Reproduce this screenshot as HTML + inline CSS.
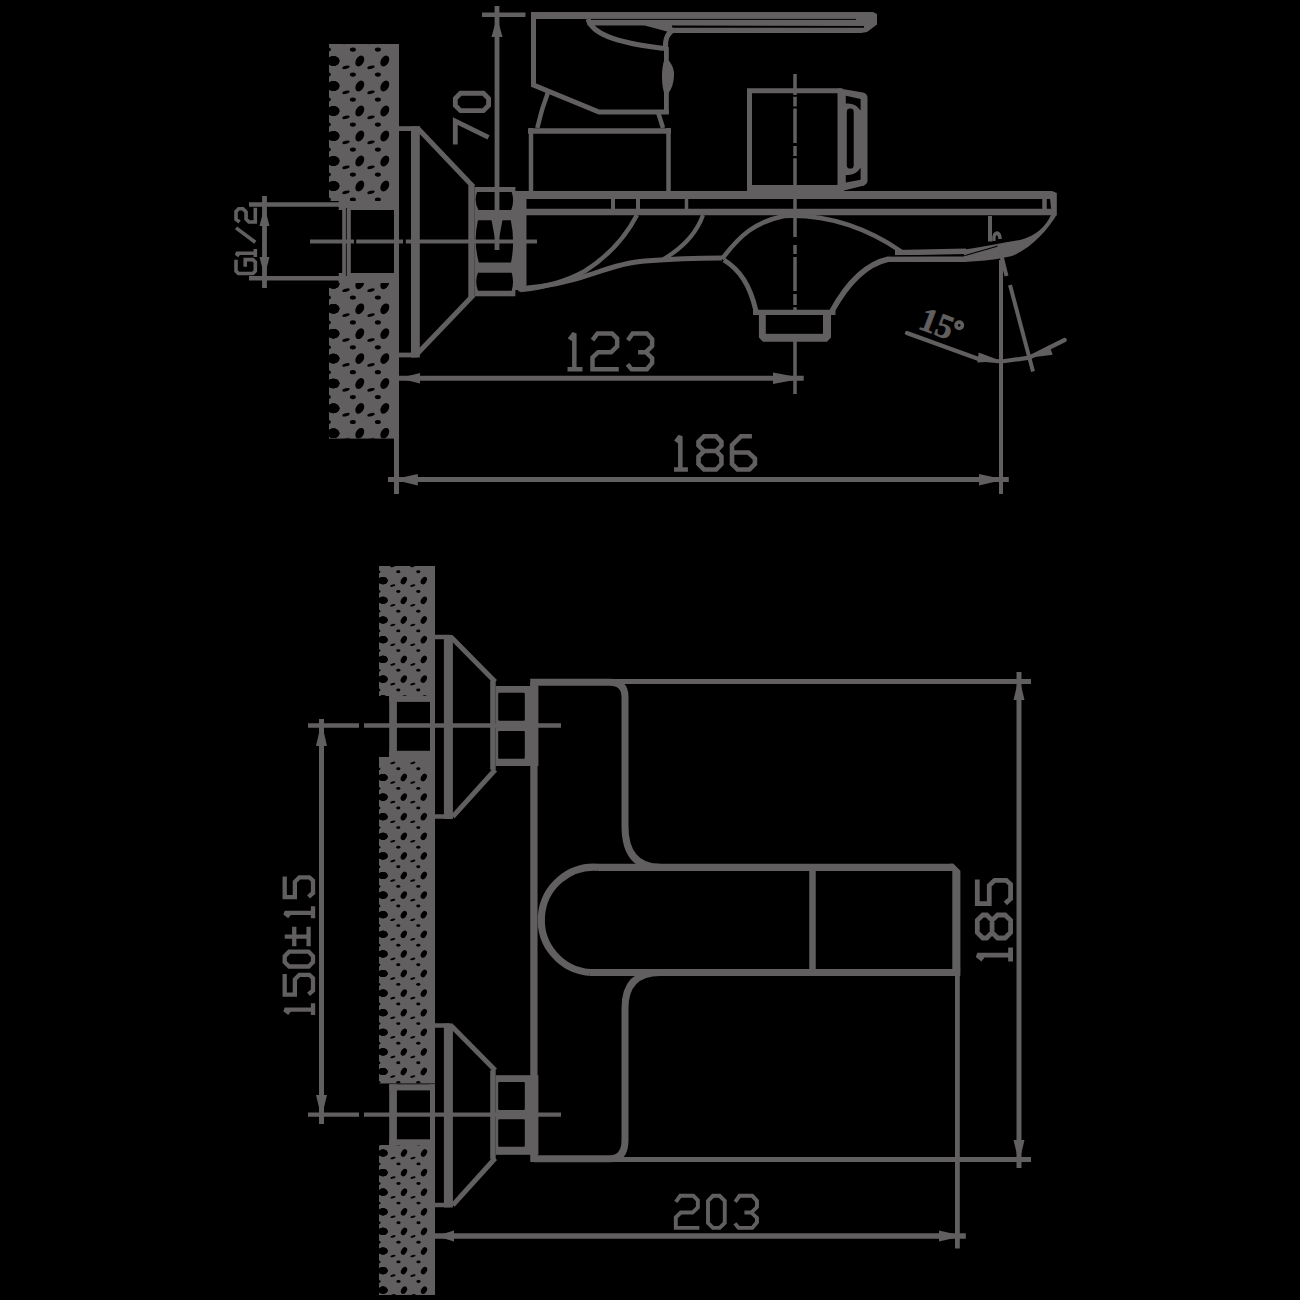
<!DOCTYPE html>
<html><head><meta charset="utf-8"><style>
html,body{margin:0;padding:0;background:#000;}
svg{display:block;}
</style></head><body>
<svg width="1300" height="1300" viewBox="0 0 1300 1300">
<rect width="1300" height="1300" fill="#000"/>
<g stroke="#615f5f" fill="none">
<clipPath id="c1"><rect x="329" y="44" width="70" height="157"/></clipPath>
<rect x="329" y="44" width="70" height="157" fill="#615f5f" stroke="none"/>
<g clip-path="url(#c1)" fill="#000" stroke="none">
<ellipse cx="333.4" cy="11.0" rx="6.00" ry="4.80"/>
<ellipse cx="271.0" cy="17.3" rx="3.80" ry="1.50" transform="rotate(-15 271.0 17.3)"/>
<ellipse cx="277.9" cy="24.6" rx="3.00" ry="2.10"/>
<ellipse cx="333.4" cy="36.0" rx="6.00" ry="4.80"/>
<ellipse cx="271.0" cy="42.3" rx="3.80" ry="1.50" transform="rotate(-15 271.0 42.3)"/>
<ellipse cx="277.9" cy="49.6" rx="3.00" ry="2.10"/>
<ellipse cx="333.4" cy="61.0" rx="6.00" ry="4.80"/>
<ellipse cx="271.0" cy="67.3" rx="3.80" ry="1.50" transform="rotate(-15 271.0 67.3)"/>
<ellipse cx="277.9" cy="74.6" rx="3.00" ry="2.10"/>
<ellipse cx="333.4" cy="86.0" rx="6.00" ry="4.80"/>
<ellipse cx="271.0" cy="92.3" rx="3.80" ry="1.50" transform="rotate(-15 271.0 92.3)"/>
<ellipse cx="277.9" cy="99.6" rx="3.00" ry="2.10"/>
<ellipse cx="333.4" cy="111.0" rx="6.00" ry="4.80"/>
<ellipse cx="271.0" cy="117.3" rx="3.80" ry="1.50" transform="rotate(-15 271.0 117.3)"/>
<ellipse cx="277.9" cy="124.6" rx="3.00" ry="2.10"/>
<ellipse cx="333.4" cy="136.0" rx="6.00" ry="4.80"/>
<ellipse cx="271.0" cy="142.3" rx="3.80" ry="1.50" transform="rotate(-15 271.0 142.3)"/>
<ellipse cx="277.9" cy="149.6" rx="3.00" ry="2.10"/>
<ellipse cx="333.4" cy="161.0" rx="6.00" ry="4.80"/>
<ellipse cx="271.0" cy="167.3" rx="3.80" ry="1.50" transform="rotate(-15 271.0 167.3)"/>
<ellipse cx="277.9" cy="174.6" rx="3.00" ry="2.10"/>
<ellipse cx="333.4" cy="186.0" rx="6.00" ry="4.80"/>
<ellipse cx="271.0" cy="192.3" rx="3.80" ry="1.50" transform="rotate(-15 271.0 192.3)"/>
<ellipse cx="277.9" cy="199.6" rx="3.00" ry="2.10"/>
<ellipse cx="333.4" cy="211.0" rx="6.00" ry="4.80"/>
<ellipse cx="271.0" cy="217.3" rx="3.80" ry="1.50" transform="rotate(-15 271.0 217.3)"/>
<ellipse cx="277.9" cy="224.6" rx="3.00" ry="2.10"/>
<ellipse cx="333.4" cy="236.0" rx="6.00" ry="4.80"/>
<ellipse cx="271.0" cy="242.3" rx="3.80" ry="1.50" transform="rotate(-15 271.0 242.3)"/>
<ellipse cx="277.9" cy="249.6" rx="3.00" ry="2.10"/>
<ellipse cx="333.4" cy="11.0" rx="6.00" ry="4.80"/>
<ellipse cx="296.0" cy="17.3" rx="3.80" ry="1.50" transform="rotate(-15 296.0 17.3)"/>
<ellipse cx="302.9" cy="24.6" rx="3.00" ry="2.10"/>
<ellipse cx="333.4" cy="36.0" rx="6.00" ry="4.80"/>
<ellipse cx="296.0" cy="42.3" rx="3.80" ry="1.50" transform="rotate(-15 296.0 42.3)"/>
<ellipse cx="302.9" cy="49.6" rx="3.00" ry="2.10"/>
<ellipse cx="333.4" cy="61.0" rx="6.00" ry="4.80"/>
<ellipse cx="296.0" cy="67.3" rx="3.80" ry="1.50" transform="rotate(-15 296.0 67.3)"/>
<ellipse cx="302.9" cy="74.6" rx="3.00" ry="2.10"/>
<ellipse cx="333.4" cy="86.0" rx="6.00" ry="4.80"/>
<ellipse cx="296.0" cy="92.3" rx="3.80" ry="1.50" transform="rotate(-15 296.0 92.3)"/>
<ellipse cx="302.9" cy="99.6" rx="3.00" ry="2.10"/>
<ellipse cx="333.4" cy="111.0" rx="6.00" ry="4.80"/>
<ellipse cx="296.0" cy="117.3" rx="3.80" ry="1.50" transform="rotate(-15 296.0 117.3)"/>
<ellipse cx="302.9" cy="124.6" rx="3.00" ry="2.10"/>
<ellipse cx="333.4" cy="136.0" rx="6.00" ry="4.80"/>
<ellipse cx="296.0" cy="142.3" rx="3.80" ry="1.50" transform="rotate(-15 296.0 142.3)"/>
<ellipse cx="302.9" cy="149.6" rx="3.00" ry="2.10"/>
<ellipse cx="333.4" cy="161.0" rx="6.00" ry="4.80"/>
<ellipse cx="296.0" cy="167.3" rx="3.80" ry="1.50" transform="rotate(-15 296.0 167.3)"/>
<ellipse cx="302.9" cy="174.6" rx="3.00" ry="2.10"/>
<ellipse cx="333.4" cy="186.0" rx="6.00" ry="4.80"/>
<ellipse cx="296.0" cy="192.3" rx="3.80" ry="1.50" transform="rotate(-15 296.0 192.3)"/>
<ellipse cx="302.9" cy="199.6" rx="3.00" ry="2.10"/>
<ellipse cx="333.4" cy="211.0" rx="6.00" ry="4.80"/>
<ellipse cx="296.0" cy="217.3" rx="3.80" ry="1.50" transform="rotate(-15 296.0 217.3)"/>
<ellipse cx="302.9" cy="224.6" rx="3.00" ry="2.10"/>
<ellipse cx="333.4" cy="236.0" rx="6.00" ry="4.80"/>
<ellipse cx="296.0" cy="242.3" rx="3.80" ry="1.50" transform="rotate(-15 296.0 242.3)"/>
<ellipse cx="302.9" cy="249.6" rx="3.00" ry="2.10"/>
<ellipse cx="333.4" cy="11.0" rx="6.00" ry="4.80"/>
<ellipse cx="321.0" cy="17.3" rx="3.80" ry="1.50" transform="rotate(-15 321.0 17.3)"/>
<ellipse cx="327.9" cy="24.6" rx="3.00" ry="2.10"/>
<ellipse cx="333.4" cy="36.0" rx="6.00" ry="4.80"/>
<ellipse cx="321.0" cy="42.3" rx="3.80" ry="1.50" transform="rotate(-15 321.0 42.3)"/>
<ellipse cx="327.9" cy="49.6" rx="3.00" ry="2.10"/>
<ellipse cx="333.4" cy="61.0" rx="6.00" ry="4.80"/>
<ellipse cx="321.0" cy="67.3" rx="3.80" ry="1.50" transform="rotate(-15 321.0 67.3)"/>
<ellipse cx="327.9" cy="74.6" rx="3.00" ry="2.10"/>
<ellipse cx="333.4" cy="86.0" rx="6.00" ry="4.80"/>
<ellipse cx="321.0" cy="92.3" rx="3.80" ry="1.50" transform="rotate(-15 321.0 92.3)"/>
<ellipse cx="327.9" cy="99.6" rx="3.00" ry="2.10"/>
<ellipse cx="333.4" cy="111.0" rx="6.00" ry="4.80"/>
<ellipse cx="321.0" cy="117.3" rx="3.80" ry="1.50" transform="rotate(-15 321.0 117.3)"/>
<ellipse cx="327.9" cy="124.6" rx="3.00" ry="2.10"/>
<ellipse cx="333.4" cy="136.0" rx="6.00" ry="4.80"/>
<ellipse cx="321.0" cy="142.3" rx="3.80" ry="1.50" transform="rotate(-15 321.0 142.3)"/>
<ellipse cx="327.9" cy="149.6" rx="3.00" ry="2.10"/>
<ellipse cx="333.4" cy="161.0" rx="6.00" ry="4.80"/>
<ellipse cx="321.0" cy="167.3" rx="3.80" ry="1.50" transform="rotate(-15 321.0 167.3)"/>
<ellipse cx="327.9" cy="174.6" rx="3.00" ry="2.10"/>
<ellipse cx="333.4" cy="186.0" rx="6.00" ry="4.80"/>
<ellipse cx="321.0" cy="192.3" rx="3.80" ry="1.50" transform="rotate(-15 321.0 192.3)"/>
<ellipse cx="327.9" cy="199.6" rx="3.00" ry="2.10"/>
<ellipse cx="333.4" cy="211.0" rx="6.00" ry="4.80"/>
<ellipse cx="321.0" cy="217.3" rx="3.80" ry="1.50" transform="rotate(-15 321.0 217.3)"/>
<ellipse cx="327.9" cy="224.6" rx="3.00" ry="2.10"/>
<ellipse cx="333.4" cy="236.0" rx="6.00" ry="4.80"/>
<ellipse cx="321.0" cy="242.3" rx="3.80" ry="1.50" transform="rotate(-15 321.0 242.3)"/>
<ellipse cx="327.9" cy="249.6" rx="3.00" ry="2.10"/>
<ellipse cx="359.8" cy="11.0" rx="3.90" ry="5.80" transform="rotate(30 359.8 11.0)"/>
<ellipse cx="346.0" cy="17.3" rx="3.80" ry="1.50" transform="rotate(-15 346.0 17.3)"/>
<ellipse cx="352.9" cy="24.6" rx="3.00" ry="2.10"/>
<ellipse cx="359.8" cy="36.0" rx="3.90" ry="5.80" transform="rotate(30 359.8 36.0)"/>
<ellipse cx="346.0" cy="42.3" rx="3.80" ry="1.50" transform="rotate(-15 346.0 42.3)"/>
<ellipse cx="352.9" cy="49.6" rx="3.00" ry="2.10"/>
<ellipse cx="359.8" cy="61.0" rx="3.90" ry="5.80" transform="rotate(30 359.8 61.0)"/>
<ellipse cx="346.0" cy="67.3" rx="3.80" ry="1.50" transform="rotate(-15 346.0 67.3)"/>
<ellipse cx="352.9" cy="74.6" rx="3.00" ry="2.10"/>
<ellipse cx="359.8" cy="86.0" rx="3.90" ry="5.80" transform="rotate(30 359.8 86.0)"/>
<ellipse cx="346.0" cy="92.3" rx="3.80" ry="1.50" transform="rotate(-15 346.0 92.3)"/>
<ellipse cx="352.9" cy="99.6" rx="3.00" ry="2.10"/>
<ellipse cx="359.8" cy="111.0" rx="3.90" ry="5.80" transform="rotate(30 359.8 111.0)"/>
<ellipse cx="346.0" cy="117.3" rx="3.80" ry="1.50" transform="rotate(-15 346.0 117.3)"/>
<ellipse cx="352.9" cy="124.6" rx="3.00" ry="2.10"/>
<ellipse cx="359.8" cy="136.0" rx="3.90" ry="5.80" transform="rotate(30 359.8 136.0)"/>
<ellipse cx="346.0" cy="142.3" rx="3.80" ry="1.50" transform="rotate(-15 346.0 142.3)"/>
<ellipse cx="352.9" cy="149.6" rx="3.00" ry="2.10"/>
<ellipse cx="359.8" cy="161.0" rx="3.90" ry="5.80" transform="rotate(30 359.8 161.0)"/>
<ellipse cx="346.0" cy="167.3" rx="3.80" ry="1.50" transform="rotate(-15 346.0 167.3)"/>
<ellipse cx="352.9" cy="174.6" rx="3.00" ry="2.10"/>
<ellipse cx="359.8" cy="186.0" rx="3.90" ry="5.80" transform="rotate(30 359.8 186.0)"/>
<ellipse cx="346.0" cy="192.3" rx="3.80" ry="1.50" transform="rotate(-15 346.0 192.3)"/>
<ellipse cx="352.9" cy="199.6" rx="3.00" ry="2.10"/>
<ellipse cx="359.8" cy="211.0" rx="3.90" ry="5.80" transform="rotate(30 359.8 211.0)"/>
<ellipse cx="346.0" cy="217.3" rx="3.80" ry="1.50" transform="rotate(-15 346.0 217.3)"/>
<ellipse cx="352.9" cy="224.6" rx="3.00" ry="2.10"/>
<ellipse cx="359.8" cy="236.0" rx="3.90" ry="5.80" transform="rotate(30 359.8 236.0)"/>
<ellipse cx="346.0" cy="242.3" rx="3.80" ry="1.50" transform="rotate(-15 346.0 242.3)"/>
<ellipse cx="352.9" cy="249.6" rx="3.00" ry="2.10"/>
<ellipse cx="384.8" cy="11.0" rx="3.90" ry="5.80" transform="rotate(30 384.8 11.0)"/>
<ellipse cx="371.0" cy="17.3" rx="3.80" ry="1.50" transform="rotate(-15 371.0 17.3)"/>
<ellipse cx="377.9" cy="24.6" rx="3.00" ry="2.10"/>
<ellipse cx="384.8" cy="36.0" rx="3.90" ry="5.80" transform="rotate(30 384.8 36.0)"/>
<ellipse cx="371.0" cy="42.3" rx="3.80" ry="1.50" transform="rotate(-15 371.0 42.3)"/>
<ellipse cx="377.9" cy="49.6" rx="3.00" ry="2.10"/>
<ellipse cx="384.8" cy="61.0" rx="3.90" ry="5.80" transform="rotate(30 384.8 61.0)"/>
<ellipse cx="371.0" cy="67.3" rx="3.80" ry="1.50" transform="rotate(-15 371.0 67.3)"/>
<ellipse cx="377.9" cy="74.6" rx="3.00" ry="2.10"/>
<ellipse cx="384.8" cy="86.0" rx="3.90" ry="5.80" transform="rotate(30 384.8 86.0)"/>
<ellipse cx="371.0" cy="92.3" rx="3.80" ry="1.50" transform="rotate(-15 371.0 92.3)"/>
<ellipse cx="377.9" cy="99.6" rx="3.00" ry="2.10"/>
<ellipse cx="384.8" cy="111.0" rx="3.90" ry="5.80" transform="rotate(30 384.8 111.0)"/>
<ellipse cx="371.0" cy="117.3" rx="3.80" ry="1.50" transform="rotate(-15 371.0 117.3)"/>
<ellipse cx="377.9" cy="124.6" rx="3.00" ry="2.10"/>
<ellipse cx="384.8" cy="136.0" rx="3.90" ry="5.80" transform="rotate(30 384.8 136.0)"/>
<ellipse cx="371.0" cy="142.3" rx="3.80" ry="1.50" transform="rotate(-15 371.0 142.3)"/>
<ellipse cx="377.9" cy="149.6" rx="3.00" ry="2.10"/>
<ellipse cx="384.8" cy="161.0" rx="3.90" ry="5.80" transform="rotate(30 384.8 161.0)"/>
<ellipse cx="371.0" cy="167.3" rx="3.80" ry="1.50" transform="rotate(-15 371.0 167.3)"/>
<ellipse cx="377.9" cy="174.6" rx="3.00" ry="2.10"/>
<ellipse cx="384.8" cy="186.0" rx="3.90" ry="5.80" transform="rotate(30 384.8 186.0)"/>
<ellipse cx="371.0" cy="192.3" rx="3.80" ry="1.50" transform="rotate(-15 371.0 192.3)"/>
<ellipse cx="377.9" cy="199.6" rx="3.00" ry="2.10"/>
<ellipse cx="384.8" cy="211.0" rx="3.90" ry="5.80" transform="rotate(30 384.8 211.0)"/>
<ellipse cx="371.0" cy="217.3" rx="3.80" ry="1.50" transform="rotate(-15 371.0 217.3)"/>
<ellipse cx="377.9" cy="224.6" rx="3.00" ry="2.10"/>
<ellipse cx="384.8" cy="236.0" rx="3.90" ry="5.80" transform="rotate(30 384.8 236.0)"/>
<ellipse cx="371.0" cy="242.3" rx="3.80" ry="1.50" transform="rotate(-15 371.0 242.3)"/>
<ellipse cx="377.9" cy="249.6" rx="3.00" ry="2.10"/>
</g>
<clipPath id="c2"><rect x="329" y="280.5" width="70" height="158.10000000000002"/></clipPath>
<rect x="329" y="280.5" width="70" height="158.10000000000002" fill="#615f5f" stroke="none"/>
<g clip-path="url(#c2)" fill="#000" stroke="none">
<ellipse cx="333.4" cy="234.1" rx="6.00" ry="4.80"/>
<ellipse cx="271.0" cy="240.4" rx="3.80" ry="1.50" transform="rotate(-15 271.0 240.4)"/>
<ellipse cx="277.9" cy="247.7" rx="3.00" ry="2.10"/>
<ellipse cx="333.4" cy="259.0" rx="6.00" ry="4.80"/>
<ellipse cx="271.0" cy="265.3" rx="3.80" ry="1.50" transform="rotate(-15 271.0 265.3)"/>
<ellipse cx="277.9" cy="272.6" rx="3.00" ry="2.10"/>
<ellipse cx="333.4" cy="283.9" rx="6.00" ry="4.80"/>
<ellipse cx="271.0" cy="290.2" rx="3.80" ry="1.50" transform="rotate(-15 271.0 290.2)"/>
<ellipse cx="277.9" cy="297.5" rx="3.00" ry="2.10"/>
<ellipse cx="333.4" cy="308.8" rx="6.00" ry="4.80"/>
<ellipse cx="271.0" cy="315.1" rx="3.80" ry="1.50" transform="rotate(-15 271.0 315.1)"/>
<ellipse cx="277.9" cy="322.4" rx="3.00" ry="2.10"/>
<ellipse cx="333.4" cy="333.7" rx="6.00" ry="4.80"/>
<ellipse cx="271.0" cy="340.0" rx="3.80" ry="1.50" transform="rotate(-15 271.0 340.0)"/>
<ellipse cx="277.9" cy="347.3" rx="3.00" ry="2.10"/>
<ellipse cx="333.4" cy="358.6" rx="6.00" ry="4.80"/>
<ellipse cx="271.0" cy="364.9" rx="3.80" ry="1.50" transform="rotate(-15 271.0 364.9)"/>
<ellipse cx="277.9" cy="372.2" rx="3.00" ry="2.10"/>
<ellipse cx="333.4" cy="383.5" rx="6.00" ry="4.80"/>
<ellipse cx="271.0" cy="389.8" rx="3.80" ry="1.50" transform="rotate(-15 271.0 389.8)"/>
<ellipse cx="277.9" cy="397.1" rx="3.00" ry="2.10"/>
<ellipse cx="333.4" cy="408.4" rx="6.00" ry="4.80"/>
<ellipse cx="271.0" cy="414.7" rx="3.80" ry="1.50" transform="rotate(-15 271.0 414.7)"/>
<ellipse cx="277.9" cy="422.0" rx="3.00" ry="2.10"/>
<ellipse cx="333.4" cy="433.3" rx="6.00" ry="4.80"/>
<ellipse cx="271.0" cy="439.6" rx="3.80" ry="1.50" transform="rotate(-15 271.0 439.6)"/>
<ellipse cx="277.9" cy="446.9" rx="3.00" ry="2.10"/>
<ellipse cx="333.4" cy="458.2" rx="6.00" ry="4.80"/>
<ellipse cx="271.0" cy="464.5" rx="3.80" ry="1.50" transform="rotate(-15 271.0 464.5)"/>
<ellipse cx="277.9" cy="471.8" rx="3.00" ry="2.10"/>
<ellipse cx="333.4" cy="483.1" rx="6.00" ry="4.80"/>
<ellipse cx="271.0" cy="489.4" rx="3.80" ry="1.50" transform="rotate(-15 271.0 489.4)"/>
<ellipse cx="277.9" cy="496.7" rx="3.00" ry="2.10"/>
<ellipse cx="333.4" cy="234.1" rx="6.00" ry="4.80"/>
<ellipse cx="296.0" cy="240.4" rx="3.80" ry="1.50" transform="rotate(-15 296.0 240.4)"/>
<ellipse cx="302.9" cy="247.7" rx="3.00" ry="2.10"/>
<ellipse cx="333.4" cy="259.0" rx="6.00" ry="4.80"/>
<ellipse cx="296.0" cy="265.3" rx="3.80" ry="1.50" transform="rotate(-15 296.0 265.3)"/>
<ellipse cx="302.9" cy="272.6" rx="3.00" ry="2.10"/>
<ellipse cx="333.4" cy="283.9" rx="6.00" ry="4.80"/>
<ellipse cx="296.0" cy="290.2" rx="3.80" ry="1.50" transform="rotate(-15 296.0 290.2)"/>
<ellipse cx="302.9" cy="297.5" rx="3.00" ry="2.10"/>
<ellipse cx="333.4" cy="308.8" rx="6.00" ry="4.80"/>
<ellipse cx="296.0" cy="315.1" rx="3.80" ry="1.50" transform="rotate(-15 296.0 315.1)"/>
<ellipse cx="302.9" cy="322.4" rx="3.00" ry="2.10"/>
<ellipse cx="333.4" cy="333.7" rx="6.00" ry="4.80"/>
<ellipse cx="296.0" cy="340.0" rx="3.80" ry="1.50" transform="rotate(-15 296.0 340.0)"/>
<ellipse cx="302.9" cy="347.3" rx="3.00" ry="2.10"/>
<ellipse cx="333.4" cy="358.6" rx="6.00" ry="4.80"/>
<ellipse cx="296.0" cy="364.9" rx="3.80" ry="1.50" transform="rotate(-15 296.0 364.9)"/>
<ellipse cx="302.9" cy="372.2" rx="3.00" ry="2.10"/>
<ellipse cx="333.4" cy="383.5" rx="6.00" ry="4.80"/>
<ellipse cx="296.0" cy="389.8" rx="3.80" ry="1.50" transform="rotate(-15 296.0 389.8)"/>
<ellipse cx="302.9" cy="397.1" rx="3.00" ry="2.10"/>
<ellipse cx="333.4" cy="408.4" rx="6.00" ry="4.80"/>
<ellipse cx="296.0" cy="414.7" rx="3.80" ry="1.50" transform="rotate(-15 296.0 414.7)"/>
<ellipse cx="302.9" cy="422.0" rx="3.00" ry="2.10"/>
<ellipse cx="333.4" cy="433.3" rx="6.00" ry="4.80"/>
<ellipse cx="296.0" cy="439.6" rx="3.80" ry="1.50" transform="rotate(-15 296.0 439.6)"/>
<ellipse cx="302.9" cy="446.9" rx="3.00" ry="2.10"/>
<ellipse cx="333.4" cy="458.2" rx="6.00" ry="4.80"/>
<ellipse cx="296.0" cy="464.5" rx="3.80" ry="1.50" transform="rotate(-15 296.0 464.5)"/>
<ellipse cx="302.9" cy="471.8" rx="3.00" ry="2.10"/>
<ellipse cx="333.4" cy="483.1" rx="6.00" ry="4.80"/>
<ellipse cx="296.0" cy="489.4" rx="3.80" ry="1.50" transform="rotate(-15 296.0 489.4)"/>
<ellipse cx="302.9" cy="496.7" rx="3.00" ry="2.10"/>
<ellipse cx="333.4" cy="234.1" rx="6.00" ry="4.80"/>
<ellipse cx="321.0" cy="240.4" rx="3.80" ry="1.50" transform="rotate(-15 321.0 240.4)"/>
<ellipse cx="327.9" cy="247.7" rx="3.00" ry="2.10"/>
<ellipse cx="333.4" cy="259.0" rx="6.00" ry="4.80"/>
<ellipse cx="321.0" cy="265.3" rx="3.80" ry="1.50" transform="rotate(-15 321.0 265.3)"/>
<ellipse cx="327.9" cy="272.6" rx="3.00" ry="2.10"/>
<ellipse cx="333.4" cy="283.9" rx="6.00" ry="4.80"/>
<ellipse cx="321.0" cy="290.2" rx="3.80" ry="1.50" transform="rotate(-15 321.0 290.2)"/>
<ellipse cx="327.9" cy="297.5" rx="3.00" ry="2.10"/>
<ellipse cx="333.4" cy="308.8" rx="6.00" ry="4.80"/>
<ellipse cx="321.0" cy="315.1" rx="3.80" ry="1.50" transform="rotate(-15 321.0 315.1)"/>
<ellipse cx="327.9" cy="322.4" rx="3.00" ry="2.10"/>
<ellipse cx="333.4" cy="333.7" rx="6.00" ry="4.80"/>
<ellipse cx="321.0" cy="340.0" rx="3.80" ry="1.50" transform="rotate(-15 321.0 340.0)"/>
<ellipse cx="327.9" cy="347.3" rx="3.00" ry="2.10"/>
<ellipse cx="333.4" cy="358.6" rx="6.00" ry="4.80"/>
<ellipse cx="321.0" cy="364.9" rx="3.80" ry="1.50" transform="rotate(-15 321.0 364.9)"/>
<ellipse cx="327.9" cy="372.2" rx="3.00" ry="2.10"/>
<ellipse cx="333.4" cy="383.5" rx="6.00" ry="4.80"/>
<ellipse cx="321.0" cy="389.8" rx="3.80" ry="1.50" transform="rotate(-15 321.0 389.8)"/>
<ellipse cx="327.9" cy="397.1" rx="3.00" ry="2.10"/>
<ellipse cx="333.4" cy="408.4" rx="6.00" ry="4.80"/>
<ellipse cx="321.0" cy="414.7" rx="3.80" ry="1.50" transform="rotate(-15 321.0 414.7)"/>
<ellipse cx="327.9" cy="422.0" rx="3.00" ry="2.10"/>
<ellipse cx="333.4" cy="433.3" rx="6.00" ry="4.80"/>
<ellipse cx="321.0" cy="439.6" rx="3.80" ry="1.50" transform="rotate(-15 321.0 439.6)"/>
<ellipse cx="327.9" cy="446.9" rx="3.00" ry="2.10"/>
<ellipse cx="333.4" cy="458.2" rx="6.00" ry="4.80"/>
<ellipse cx="321.0" cy="464.5" rx="3.80" ry="1.50" transform="rotate(-15 321.0 464.5)"/>
<ellipse cx="327.9" cy="471.8" rx="3.00" ry="2.10"/>
<ellipse cx="333.4" cy="483.1" rx="6.00" ry="4.80"/>
<ellipse cx="321.0" cy="489.4" rx="3.80" ry="1.50" transform="rotate(-15 321.0 489.4)"/>
<ellipse cx="327.9" cy="496.7" rx="3.00" ry="2.10"/>
<ellipse cx="359.8" cy="234.1" rx="3.90" ry="5.80" transform="rotate(30 359.8 234.1)"/>
<ellipse cx="346.0" cy="240.4" rx="3.80" ry="1.50" transform="rotate(-15 346.0 240.4)"/>
<ellipse cx="352.9" cy="247.7" rx="3.00" ry="2.10"/>
<ellipse cx="359.8" cy="259.0" rx="3.90" ry="5.80" transform="rotate(30 359.8 259.0)"/>
<ellipse cx="346.0" cy="265.3" rx="3.80" ry="1.50" transform="rotate(-15 346.0 265.3)"/>
<ellipse cx="352.9" cy="272.6" rx="3.00" ry="2.10"/>
<ellipse cx="359.8" cy="283.9" rx="3.90" ry="5.80" transform="rotate(30 359.8 283.9)"/>
<ellipse cx="346.0" cy="290.2" rx="3.80" ry="1.50" transform="rotate(-15 346.0 290.2)"/>
<ellipse cx="352.9" cy="297.5" rx="3.00" ry="2.10"/>
<ellipse cx="359.8" cy="308.8" rx="3.90" ry="5.80" transform="rotate(30 359.8 308.8)"/>
<ellipse cx="346.0" cy="315.1" rx="3.80" ry="1.50" transform="rotate(-15 346.0 315.1)"/>
<ellipse cx="352.9" cy="322.4" rx="3.00" ry="2.10"/>
<ellipse cx="359.8" cy="333.7" rx="3.90" ry="5.80" transform="rotate(30 359.8 333.7)"/>
<ellipse cx="346.0" cy="340.0" rx="3.80" ry="1.50" transform="rotate(-15 346.0 340.0)"/>
<ellipse cx="352.9" cy="347.3" rx="3.00" ry="2.10"/>
<ellipse cx="359.8" cy="358.6" rx="3.90" ry="5.80" transform="rotate(30 359.8 358.6)"/>
<ellipse cx="346.0" cy="364.9" rx="3.80" ry="1.50" transform="rotate(-15 346.0 364.9)"/>
<ellipse cx="352.9" cy="372.2" rx="3.00" ry="2.10"/>
<ellipse cx="359.8" cy="383.5" rx="3.90" ry="5.80" transform="rotate(30 359.8 383.5)"/>
<ellipse cx="346.0" cy="389.8" rx="3.80" ry="1.50" transform="rotate(-15 346.0 389.8)"/>
<ellipse cx="352.9" cy="397.1" rx="3.00" ry="2.10"/>
<ellipse cx="359.8" cy="408.4" rx="3.90" ry="5.80" transform="rotate(30 359.8 408.4)"/>
<ellipse cx="346.0" cy="414.7" rx="3.80" ry="1.50" transform="rotate(-15 346.0 414.7)"/>
<ellipse cx="352.9" cy="422.0" rx="3.00" ry="2.10"/>
<ellipse cx="359.8" cy="433.3" rx="3.90" ry="5.80" transform="rotate(30 359.8 433.3)"/>
<ellipse cx="346.0" cy="439.6" rx="3.80" ry="1.50" transform="rotate(-15 346.0 439.6)"/>
<ellipse cx="352.9" cy="446.9" rx="3.00" ry="2.10"/>
<ellipse cx="359.8" cy="458.2" rx="3.90" ry="5.80" transform="rotate(30 359.8 458.2)"/>
<ellipse cx="346.0" cy="464.5" rx="3.80" ry="1.50" transform="rotate(-15 346.0 464.5)"/>
<ellipse cx="352.9" cy="471.8" rx="3.00" ry="2.10"/>
<ellipse cx="359.8" cy="483.1" rx="3.90" ry="5.80" transform="rotate(30 359.8 483.1)"/>
<ellipse cx="346.0" cy="489.4" rx="3.80" ry="1.50" transform="rotate(-15 346.0 489.4)"/>
<ellipse cx="352.9" cy="496.7" rx="3.00" ry="2.10"/>
<ellipse cx="384.8" cy="234.1" rx="3.90" ry="5.80" transform="rotate(30 384.8 234.1)"/>
<ellipse cx="371.0" cy="240.4" rx="3.80" ry="1.50" transform="rotate(-15 371.0 240.4)"/>
<ellipse cx="377.9" cy="247.7" rx="3.00" ry="2.10"/>
<ellipse cx="384.8" cy="259.0" rx="3.90" ry="5.80" transform="rotate(30 384.8 259.0)"/>
<ellipse cx="371.0" cy="265.3" rx="3.80" ry="1.50" transform="rotate(-15 371.0 265.3)"/>
<ellipse cx="377.9" cy="272.6" rx="3.00" ry="2.10"/>
<ellipse cx="384.8" cy="283.9" rx="3.90" ry="5.80" transform="rotate(30 384.8 283.9)"/>
<ellipse cx="371.0" cy="290.2" rx="3.80" ry="1.50" transform="rotate(-15 371.0 290.2)"/>
<ellipse cx="377.9" cy="297.5" rx="3.00" ry="2.10"/>
<ellipse cx="384.8" cy="308.8" rx="3.90" ry="5.80" transform="rotate(30 384.8 308.8)"/>
<ellipse cx="371.0" cy="315.1" rx="3.80" ry="1.50" transform="rotate(-15 371.0 315.1)"/>
<ellipse cx="377.9" cy="322.4" rx="3.00" ry="2.10"/>
<ellipse cx="384.8" cy="333.7" rx="3.90" ry="5.80" transform="rotate(30 384.8 333.7)"/>
<ellipse cx="371.0" cy="340.0" rx="3.80" ry="1.50" transform="rotate(-15 371.0 340.0)"/>
<ellipse cx="377.9" cy="347.3" rx="3.00" ry="2.10"/>
<ellipse cx="384.8" cy="358.6" rx="3.90" ry="5.80" transform="rotate(30 384.8 358.6)"/>
<ellipse cx="371.0" cy="364.9" rx="3.80" ry="1.50" transform="rotate(-15 371.0 364.9)"/>
<ellipse cx="377.9" cy="372.2" rx="3.00" ry="2.10"/>
<ellipse cx="384.8" cy="383.5" rx="3.90" ry="5.80" transform="rotate(30 384.8 383.5)"/>
<ellipse cx="371.0" cy="389.8" rx="3.80" ry="1.50" transform="rotate(-15 371.0 389.8)"/>
<ellipse cx="377.9" cy="397.1" rx="3.00" ry="2.10"/>
<ellipse cx="384.8" cy="408.4" rx="3.90" ry="5.80" transform="rotate(30 384.8 408.4)"/>
<ellipse cx="371.0" cy="414.7" rx="3.80" ry="1.50" transform="rotate(-15 371.0 414.7)"/>
<ellipse cx="377.9" cy="422.0" rx="3.00" ry="2.10"/>
<ellipse cx="384.8" cy="433.3" rx="3.90" ry="5.80" transform="rotate(30 384.8 433.3)"/>
<ellipse cx="371.0" cy="439.6" rx="3.80" ry="1.50" transform="rotate(-15 371.0 439.6)"/>
<ellipse cx="377.9" cy="446.9" rx="3.00" ry="2.10"/>
<ellipse cx="384.8" cy="458.2" rx="3.90" ry="5.80" transform="rotate(30 384.8 458.2)"/>
<ellipse cx="371.0" cy="464.5" rx="3.80" ry="1.50" transform="rotate(-15 371.0 464.5)"/>
<ellipse cx="377.9" cy="471.8" rx="3.00" ry="2.10"/>
<ellipse cx="384.8" cy="483.1" rx="3.90" ry="5.80" transform="rotate(30 384.8 483.1)"/>
<ellipse cx="371.0" cy="489.4" rx="3.80" ry="1.50" transform="rotate(-15 371.0 489.4)"/>
<ellipse cx="377.9" cy="496.7" rx="3.00" ry="2.10"/>
</g>
<rect x="338.7" y="201" width="60.3" height="9" fill="#615f5f" stroke="none"/>
<rect x="338.7" y="273" width="60.3" height="10" fill="#615f5f" stroke="none"/>
<rect x="342.2" y="206" width="8.6" height="70" fill="#615f5f" stroke="none"/>
<line x1="346.4" y1="208" x2="346.4" y2="276" stroke="#000" stroke-width="0.8"/>
<rect x="394" y="201" width="5" height="82" fill="#615f5f" stroke="none"/>
<line x1="249" y1="204.4" x2="339" y2="204.4" stroke-width="4.5" stroke-linecap="butt"/>
<line x1="249" y1="278.3" x2="339" y2="278.3" stroke-width="4.5" stroke-linecap="butt"/>
<line x1="264.5" y1="196" x2="264.5" y2="288" stroke-width="4.8" stroke-linecap="butt"/>
<path d="M264.5,206.5 L259.5,226.0 L269.5,226.0 Z" fill="#615f5f" stroke="none"/>
<path d="M264.5,276.0 L269.5,257.0 L259.5,257.0 Z" fill="#615f5f" stroke="none"/>
<path d="M 236.00,259.63 L 236.00,271.09 L 238.41,273.50 L 252.88,273.50 L 255.30,271.09 L 255.30,262.04 L 252.88,259.63 L 245.23,259.63 L 245.23,266.87" stroke-width="3.6" fill="none" stroke-linejoin="miter" stroke-miterlimit="3"/>
<path d="M 239.26,255.91 L 236.00,253.32 L 255.30,253.32 M 255.30,257.00 L 255.30,248.92" stroke-width="3.6" fill="none" stroke-linejoin="miter" stroke-miterlimit="3"/>
<path d="M 255.30,242.30 L 236.00,227.83" stroke-width="3.6" fill="none" stroke-linejoin="miter" stroke-miterlimit="3"/>
<path d="M 239.62,222.00 L 236.00,219.29 L 236.00,211.45 L 238.71,208.73 L 242.93,208.73 L 246.07,211.93 L 246.07,218.99 L 248.96,222.00 L 255.30,222.00 L 255.30,207.83" stroke-width="3.6" fill="none" stroke-linejoin="miter" stroke-miterlimit="3"/>
<line x1="398" y1="128.6" x2="417" y2="128.6" stroke-width="4.8" stroke-linecap="butt"/>
<line x1="398" y1="355" x2="417" y2="355" stroke-width="4.8" stroke-linecap="butt"/>
<line x1="415.4" y1="126.2" x2="415.4" y2="357.4" stroke-width="8.8" stroke-linecap="butt"/>
<line x1="417" y1="127.5" x2="473.5" y2="187" stroke-width="5" stroke-linecap="butt"/>
<line x1="417" y1="354" x2="473.5" y2="295" stroke-width="5" stroke-linecap="butt"/>
<line x1="396.5" y1="438" x2="396.5" y2="494" stroke-width="5" stroke-linecap="butt"/>
<rect x="468.3" y="185.5" width="6" height="111.5" fill="#615f5f" stroke="none"/>
<rect x="474.3" y="187" width="41.1" height="109.3" fill="#615f5f" stroke="none"/>
<rect x="514" y="191" width="12.5" height="99" fill="#615f5f" stroke="none"/>
<path d="M477.1,192 Q473.60,201.00 478.5,210 L511.2,210 Q514.75,201.00 511.7,192 Z" stroke="none" fill="#000" />
<path d="M478,220.2 Q472.95,241.40 478.9,262.6 L511,262.6 Q515.30,241.40 510.8,220.2 Z" stroke="none" fill="#000" />
<path d="M478,272.8 Q474.40,281.80 478,290.8 L511.7,290.8 Q514.30,281.80 511.7,272.8 Z" stroke="none" fill="#000" />
<path d="M310,241.5 H354 M356.2,241.5 H403 M405.8,241.5 H537" stroke-width="4"/>
<line x1="520" y1="195" x2="1052" y2="195" stroke-width="8" stroke-linecap="butt"/>
<line x1="526" y1="212" x2="1054" y2="212" stroke-width="6.5" stroke-linecap="butt"/>
<path d="M1049,191 L1052,191 L1056.8,193 L1056.8,215.5 L1052,215.5 Z" stroke="none" fill="#615f5f" />
<line x1="613" y1="199" x2="613" y2="209" stroke-width="4" stroke-linecap="butt"/>
<line x1="638" y1="199" x2="638" y2="209" stroke-width="4" stroke-linecap="butt"/>
<line x1="686.5" y1="199" x2="686.5" y2="209" stroke-width="3.5" stroke-linecap="butt"/>
<line x1="1044.5" y1="199" x2="1044.5" y2="209" stroke-width="4.5" stroke-linecap="butt"/>
<path d="M518,289 C545,287 570,282 595,273 C615,266 630,262 645,261 C670,259 700,258 722,258" stroke-width="5" fill="none" />
<path d="M637,215 C625,238 607,257 585,271 C565,282 540,288 520,290" stroke-width="4.5" fill="none" />
<path d="M703,215 C697,232 683,248 662,260" stroke-width="4.2" fill="none" />
<line x1="528" y1="131" x2="671" y2="131" stroke-width="5.5" stroke-linecap="butt"/>
<line x1="531" y1="128" x2="531" y2="191" stroke-width="4.5" stroke-linecap="butt"/>
<line x1="668.5" y1="128" x2="668.5" y2="191" stroke-width="4.5" stroke-linecap="butt"/>
<path d="M531,12 L873,12 L877,14 L877,24.6 L867,32 L861,33 L667,33 L667,31.4 L644.6,25.6 L587.4,25.6 L587.4,18.9 L531,18.9 Z" stroke="none" fill="#615f5f" />
<rect x="587.4" y="18.9" width="268.6" height="0.95" fill="#000" stroke="none"/>
<path d="M672,25.6 L864,25.9 L864,27.7 L672,27.7 Z" stroke="none" fill="#000" />
<path d="M533.5,15 L533.5,85 L599,112 L668.8,112" stroke-width="5" fill="none" />
<path d="M666.4,47 L666.4,114" stroke-width="4.8" fill="none" />
<path d="M588,19 C592,33 612,42 664,48.5" stroke-width="5" fill="none" />
<path d="M674,29.5 C667,33 665,40 665.5,48" stroke-width="5" fill="none" />
<path d="M664,60.8 L669,60.8 C673,66 674,70 674,75 C674,82 672,88 668.8,92.7 L664,92.7 C662,86 662,80 662,75 C662,69 663,64 664,60.8 Z" stroke="none" fill="#615f5f" />
<path d="M548.3,91.5 Q541.5,109 537.3,128" stroke-width="4.5" fill="none" />
<path d="M658,112 L663,128" stroke-width="4.5" fill="none" />
<line x1="497" y1="6" x2="497" y2="250" stroke-width="4.8" stroke-linecap="butt"/>
<line x1="482" y1="14.7" x2="525.5" y2="14.7" stroke-width="4.5" stroke-linecap="butt"/>
<path d="M497.0,17.0 L491.5,37.0 L502.5,37.0 Z" fill="#615f5f" stroke="none"/>
<path d="M497.0,249.0 L502.5,220.0 L491.5,220.0 Z" fill="#615f5f" stroke="none"/>
<path d="M 455.30,144.60 L 455.30,121.20 L 488.58,137.32" stroke-width="4.8" fill="none" stroke-linejoin="miter" stroke-miterlimit="3"/>
<path d="M 460.50,110.60 L 455.30,105.40 L 455.30,98.54 L 460.50,93.23 L 483.38,93.23 L 488.58,98.54 L 488.58,105.40 L 483.38,110.60 Z" stroke-width="4.8" fill="none" stroke-linejoin="miter" stroke-miterlimit="3"/>
<path d="M749.5,188 L749.5,90.8 L840,90.8 L840,188" stroke-width="5" fill="none" />
<line x1="747" y1="188" x2="844" y2="188" stroke-width="6" stroke-linecap="butt"/>
<path d="M838,88.3 L863,92.5 Q867.5,93.5 867.5,98 L867.5,181 Q867.5,184.5 862,186 L844,190.5 L838,190.5 Z" stroke="none" fill="#615f5f" />
<path d="M845.8,95.7 L860.6,99 L860.6,110.5 Q856,103.5 848,103.5 L845.8,103.5 Z" stroke="none" fill="#000" />
<path d="M845.8,175 L848,175 Q856,175 860.6,167.7 L860.6,179.7 L845.8,182.5 Z" stroke="none" fill="#000" />
<rect x="846.8" y="108.6" width="6.9" height="60" rx="3.4" fill="#000" stroke="none"/>
<path d="M795,74 V95 M795,96.8 V106.4 M795,108.6 V143 M795,146 V156 M795,158.2 V237 M795,245 V254 M795,257 V291 M795,294 V305 M795,307.2 V394" stroke-width="3.5"/>
<path d="M722,259 C740,235 755,222 784,216 C830,214 870,230 902,252" stroke-width="4.5" fill="none" />
<path d="M724,260 C740,270 750,285 756,311" stroke-width="5" fill="none" />
<path d="M753,309.8 L835.5,309.8 L835.5,315 L831,315 L831,337.5 L827,341.7 L763,341.7 L758.9,337.5 L758.9,315 L753,315 Z" stroke="none" fill="#615f5f" />
<rect x="765.8" y="315" width="57.2" height="18.8" fill="#000" stroke="none"/>
<line x1="990" y1="216" x2="990" y2="241.5" stroke-width="4" stroke-linecap="butt"/>
<path d="M832,311 C848,282 866,264 888,259.2 L966,259.3" stroke-width="5.5" fill="none" />
<path d="M895,252.7 L966,251.2" stroke-width="5.5" fill="none" />
<path d="M1051,215 C1046,226 1036,236 1020,240 C1005,242 985,247 964,249.5 L964,262 C985,261 1000,259 1012,256 C1030,249 1048,230 1056.5,215 Z" stroke="none" fill="#615f5f" />
<path d="M891,255.7 L966,255.2 L998,246" stroke-width="1.1" fill="none" stroke="#000"/>
<path d="M994,241 Q993,234 997,233 Q1000,234 1000,239" stroke-width="3.5" fill="none" />
<line x1="1001" y1="260" x2="1001" y2="494" stroke-width="4" stroke-linecap="butt"/>
<path d="M999,246 L1006.5,276" stroke-width="4" fill="none" />
<line x1="1010" y1="285" x2="1033" y2="371.4" stroke-width="4" stroke-linecap="butt"/>
<path d="M906.9,333.1 L980,359.5 L1001.5,361.5 L1029.2,357.7 L1064.6,340" stroke-width="4.2" fill="none" stroke-linejoin="round" stroke-linecap="round"/>
<path d="M1001.5,361.0 L978.7,352.6 L977.3,362.4 Z" fill="#615f5f" stroke="none"/>
<path d="M1029.2,357.7 L1052.7,354.7 L1049.3,345.3 Z" fill="#615f5f" stroke="none"/>
<text x="0" y="0" transform="translate(917,328) rotate(21)" font-family="Liberation Serif" font-weight="bold" font-size="34" fill="#615f5f" stroke="#615f5f" stroke-width="0.6">15</text>
<circle cx="959.2" cy="325.3" r="3.2" stroke-width="3.6"/>
<line x1="399" y1="378.3" x2="803.7" y2="378.3" stroke-width="5" stroke-linecap="butt"/>
<path d="M399.0,378.3 L420.0,383.6 L420.0,373.1 Z" fill="#615f5f" stroke="none"/>
<path d="M803.7,378.3 L773.0,372.6 L773.0,384.1 Z" fill="#615f5f" stroke="none"/>
<path d="M 569.51,339.54 L 574.33,333.50 L 574.33,369.31 M 567.50,369.31 L 582.49,369.31" stroke-width="4.5" fill="none" stroke-linejoin="miter" stroke-miterlimit="3"/>
<path d="M 592.50,340.21 L 597.54,333.50 L 612.08,333.50 L 617.12,338.54 L 617.12,346.37 L 611.19,352.19 L 598.10,352.19 L 592.50,357.56 L 592.50,369.31 L 618.80,369.31" stroke-width="4.5" fill="none" stroke-linejoin="miter" stroke-miterlimit="3"/>
<path d="M 627.84,340.21 L 632.65,333.50 L 646.86,333.50 L 652.12,339.10 L 652.12,346.03 L 645.85,352.19 L 638.13,352.19 M 645.85,352.19 L 652.12,358.12 L 652.12,363.04 L 646.86,369.31 L 631.64,369.31 L 627.50,364.27" stroke-width="4.5" fill="none" stroke-linejoin="miter" stroke-miterlimit="3"/>
<line x1="388" y1="479.6" x2="1008.8" y2="479.6" stroke-width="5" stroke-linecap="butt"/>
<path d="M393.0,479.6 L417.8,485.4 L417.8,473.9 Z" fill="#615f5f" stroke="none"/>
<path d="M1004.6,479.6 L979.0,473.9 L979.0,485.4 Z" fill="#615f5f" stroke="none"/>
<path d="M 675.87,441.90 L 680.33,436.30 L 680.33,469.50 M 674.00,469.50 L 687.90,469.50" stroke-width="4.6" fill="none" stroke-linejoin="miter" stroke-miterlimit="3"/>
<path d="M 704.00,436.30 L 716.14,436.30 L 721.43,441.80 L 721.43,445.64 L 716.14,451.03 L 704.00,451.03 L 698.50,445.64 L 698.50,441.80 Z M 704.00,451.03 L 716.14,451.03 L 721.43,456.53 L 721.43,464.00 L 716.14,469.50 L 704.00,469.50 L 698.50,464.00 L 698.50,456.53 Z" stroke-width="4.6" fill="none" stroke-linejoin="miter" stroke-miterlimit="3"/>
<path d="M 751.92,436.30 L 740.92,436.30 L 732.00,445.12 L 732.00,464.00 L 737.50,469.50 L 749.43,469.50 L 754.93,464.00 L 754.93,458.50 L 748.50,452.49 L 732.00,452.49" stroke-width="4.6" fill="none" stroke-linejoin="miter" stroke-miterlimit="3"/>
<clipPath id="c3"><rect x="379" y="566" width="56" height="130"/></clipPath>
<rect x="379" y="566" width="56" height="130" fill="#615f5f" stroke="none"/>
<g clip-path="url(#c3)" fill="#000" stroke="none">
<ellipse cx="332.8" cy="546.2" rx="2.66" ry="1.05" transform="rotate(-15 332.8 546.2)"/>
<ellipse cx="338.3" cy="552.1" rx="2.10" ry="1.47"/>
<ellipse cx="332.8" cy="565.9" rx="2.66" ry="1.05" transform="rotate(-15 332.8 565.9)"/>
<ellipse cx="338.3" cy="571.8" rx="2.10" ry="1.47"/>
<ellipse cx="383.0" cy="580.6" rx="4.60" ry="3.60"/>
<ellipse cx="332.8" cy="585.6" rx="2.66" ry="1.05" transform="rotate(-15 332.8 585.6)"/>
<ellipse cx="338.3" cy="591.5" rx="2.10" ry="1.47"/>
<ellipse cx="383.0" cy="600.3" rx="4.60" ry="3.60"/>
<ellipse cx="332.8" cy="605.3" rx="2.66" ry="1.05" transform="rotate(-15 332.8 605.3)"/>
<ellipse cx="338.3" cy="611.2" rx="2.10" ry="1.47"/>
<ellipse cx="383.0" cy="620.0" rx="4.60" ry="3.60"/>
<ellipse cx="332.8" cy="625.0" rx="2.66" ry="1.05" transform="rotate(-15 332.8 625.0)"/>
<ellipse cx="338.3" cy="630.9" rx="2.10" ry="1.47"/>
<ellipse cx="383.0" cy="639.7" rx="4.60" ry="3.60"/>
<ellipse cx="332.8" cy="644.7" rx="2.66" ry="1.05" transform="rotate(-15 332.8 644.7)"/>
<ellipse cx="338.3" cy="650.6" rx="2.10" ry="1.47"/>
<ellipse cx="383.0" cy="659.4" rx="4.60" ry="3.60"/>
<ellipse cx="332.8" cy="664.4" rx="2.66" ry="1.05" transform="rotate(-15 332.8 664.4)"/>
<ellipse cx="338.3" cy="670.3" rx="2.10" ry="1.47"/>
<ellipse cx="383.0" cy="679.1" rx="4.60" ry="3.60"/>
<ellipse cx="332.8" cy="684.1" rx="2.66" ry="1.05" transform="rotate(-15 332.8 684.1)"/>
<ellipse cx="338.3" cy="690.0" rx="2.10" ry="1.47"/>
<ellipse cx="383.0" cy="698.8" rx="4.60" ry="3.60"/>
<ellipse cx="332.8" cy="703.8" rx="2.66" ry="1.05" transform="rotate(-15 332.8 703.8)"/>
<ellipse cx="338.3" cy="709.7" rx="2.10" ry="1.47"/>
<ellipse cx="383.0" cy="718.5" rx="4.60" ry="3.60"/>
<ellipse cx="332.8" cy="723.5" rx="2.66" ry="1.05" transform="rotate(-15 332.8 723.5)"/>
<ellipse cx="338.3" cy="729.4" rx="2.10" ry="1.47"/>
<ellipse cx="352.8" cy="546.2" rx="2.66" ry="1.05" transform="rotate(-15 352.8 546.2)"/>
<ellipse cx="358.3" cy="552.1" rx="2.10" ry="1.47"/>
<ellipse cx="352.8" cy="565.9" rx="2.66" ry="1.05" transform="rotate(-15 352.8 565.9)"/>
<ellipse cx="358.3" cy="571.8" rx="2.10" ry="1.47"/>
<ellipse cx="383.0" cy="580.6" rx="4.60" ry="3.60"/>
<ellipse cx="352.8" cy="585.6" rx="2.66" ry="1.05" transform="rotate(-15 352.8 585.6)"/>
<ellipse cx="358.3" cy="591.5" rx="2.10" ry="1.47"/>
<ellipse cx="383.0" cy="600.3" rx="4.60" ry="3.60"/>
<ellipse cx="352.8" cy="605.3" rx="2.66" ry="1.05" transform="rotate(-15 352.8 605.3)"/>
<ellipse cx="358.3" cy="611.2" rx="2.10" ry="1.47"/>
<ellipse cx="383.0" cy="620.0" rx="4.60" ry="3.60"/>
<ellipse cx="352.8" cy="625.0" rx="2.66" ry="1.05" transform="rotate(-15 352.8 625.0)"/>
<ellipse cx="358.3" cy="630.9" rx="2.10" ry="1.47"/>
<ellipse cx="383.0" cy="639.7" rx="4.60" ry="3.60"/>
<ellipse cx="352.8" cy="644.7" rx="2.66" ry="1.05" transform="rotate(-15 352.8 644.7)"/>
<ellipse cx="358.3" cy="650.6" rx="2.10" ry="1.47"/>
<ellipse cx="383.0" cy="659.4" rx="4.60" ry="3.60"/>
<ellipse cx="352.8" cy="664.4" rx="2.66" ry="1.05" transform="rotate(-15 352.8 664.4)"/>
<ellipse cx="358.3" cy="670.3" rx="2.10" ry="1.47"/>
<ellipse cx="383.0" cy="679.1" rx="4.60" ry="3.60"/>
<ellipse cx="352.8" cy="684.1" rx="2.66" ry="1.05" transform="rotate(-15 352.8 684.1)"/>
<ellipse cx="358.3" cy="690.0" rx="2.10" ry="1.47"/>
<ellipse cx="383.0" cy="698.8" rx="4.60" ry="3.60"/>
<ellipse cx="352.8" cy="703.8" rx="2.66" ry="1.05" transform="rotate(-15 352.8 703.8)"/>
<ellipse cx="358.3" cy="709.7" rx="2.10" ry="1.47"/>
<ellipse cx="383.0" cy="718.5" rx="4.60" ry="3.60"/>
<ellipse cx="352.8" cy="723.5" rx="2.66" ry="1.05" transform="rotate(-15 352.8 723.5)"/>
<ellipse cx="358.3" cy="729.4" rx="2.10" ry="1.47"/>
<ellipse cx="372.8" cy="546.2" rx="2.66" ry="1.05" transform="rotate(-15 372.8 546.2)"/>
<ellipse cx="378.3" cy="552.1" rx="2.10" ry="1.47"/>
<ellipse cx="372.8" cy="565.9" rx="2.66" ry="1.05" transform="rotate(-15 372.8 565.9)"/>
<ellipse cx="378.3" cy="571.8" rx="2.10" ry="1.47"/>
<ellipse cx="383.0" cy="580.6" rx="4.60" ry="3.60"/>
<ellipse cx="372.8" cy="585.6" rx="2.66" ry="1.05" transform="rotate(-15 372.8 585.6)"/>
<ellipse cx="378.3" cy="591.5" rx="2.10" ry="1.47"/>
<ellipse cx="383.0" cy="600.3" rx="4.60" ry="3.60"/>
<ellipse cx="372.8" cy="605.3" rx="2.66" ry="1.05" transform="rotate(-15 372.8 605.3)"/>
<ellipse cx="378.3" cy="611.2" rx="2.10" ry="1.47"/>
<ellipse cx="383.0" cy="620.0" rx="4.60" ry="3.60"/>
<ellipse cx="372.8" cy="625.0" rx="2.66" ry="1.05" transform="rotate(-15 372.8 625.0)"/>
<ellipse cx="378.3" cy="630.9" rx="2.10" ry="1.47"/>
<ellipse cx="383.0" cy="639.7" rx="4.60" ry="3.60"/>
<ellipse cx="372.8" cy="644.7" rx="2.66" ry="1.05" transform="rotate(-15 372.8 644.7)"/>
<ellipse cx="378.3" cy="650.6" rx="2.10" ry="1.47"/>
<ellipse cx="383.0" cy="659.4" rx="4.60" ry="3.60"/>
<ellipse cx="372.8" cy="664.4" rx="2.66" ry="1.05" transform="rotate(-15 372.8 664.4)"/>
<ellipse cx="378.3" cy="670.3" rx="2.10" ry="1.47"/>
<ellipse cx="383.0" cy="679.1" rx="4.60" ry="3.60"/>
<ellipse cx="372.8" cy="684.1" rx="2.66" ry="1.05" transform="rotate(-15 372.8 684.1)"/>
<ellipse cx="378.3" cy="690.0" rx="2.10" ry="1.47"/>
<ellipse cx="383.0" cy="698.8" rx="4.60" ry="3.60"/>
<ellipse cx="372.8" cy="703.8" rx="2.66" ry="1.05" transform="rotate(-15 372.8 703.8)"/>
<ellipse cx="378.3" cy="709.7" rx="2.10" ry="1.47"/>
<ellipse cx="383.0" cy="718.5" rx="4.60" ry="3.60"/>
<ellipse cx="372.8" cy="723.5" rx="2.66" ry="1.05" transform="rotate(-15 372.8 723.5)"/>
<ellipse cx="378.3" cy="729.4" rx="2.10" ry="1.47"/>
<ellipse cx="392.8" cy="546.2" rx="2.66" ry="1.05" transform="rotate(-15 392.8 546.2)"/>
<ellipse cx="398.3" cy="552.1" rx="2.10" ry="1.47"/>
<ellipse cx="392.8" cy="565.9" rx="2.66" ry="1.05" transform="rotate(-15 392.8 565.9)"/>
<ellipse cx="398.3" cy="571.8" rx="2.10" ry="1.47"/>
<ellipse cx="403.8" cy="580.6" rx="2.73" ry="4.06" transform="rotate(30 403.8 580.6)"/>
<ellipse cx="392.8" cy="585.6" rx="2.66" ry="1.05" transform="rotate(-15 392.8 585.6)"/>
<ellipse cx="398.3" cy="591.5" rx="2.10" ry="1.47"/>
<ellipse cx="403.8" cy="600.3" rx="2.73" ry="4.06" transform="rotate(30 403.8 600.3)"/>
<ellipse cx="392.8" cy="605.3" rx="2.66" ry="1.05" transform="rotate(-15 392.8 605.3)"/>
<ellipse cx="398.3" cy="611.2" rx="2.10" ry="1.47"/>
<ellipse cx="403.8" cy="620.0" rx="2.73" ry="4.06" transform="rotate(30 403.8 620.0)"/>
<ellipse cx="392.8" cy="625.0" rx="2.66" ry="1.05" transform="rotate(-15 392.8 625.0)"/>
<ellipse cx="398.3" cy="630.9" rx="2.10" ry="1.47"/>
<ellipse cx="403.8" cy="639.7" rx="2.73" ry="4.06" transform="rotate(30 403.8 639.7)"/>
<ellipse cx="392.8" cy="644.7" rx="2.66" ry="1.05" transform="rotate(-15 392.8 644.7)"/>
<ellipse cx="398.3" cy="650.6" rx="2.10" ry="1.47"/>
<ellipse cx="403.8" cy="659.4" rx="2.73" ry="4.06" transform="rotate(30 403.8 659.4)"/>
<ellipse cx="392.8" cy="664.4" rx="2.66" ry="1.05" transform="rotate(-15 392.8 664.4)"/>
<ellipse cx="398.3" cy="670.3" rx="2.10" ry="1.47"/>
<ellipse cx="403.8" cy="679.1" rx="2.73" ry="4.06" transform="rotate(30 403.8 679.1)"/>
<ellipse cx="392.8" cy="684.1" rx="2.66" ry="1.05" transform="rotate(-15 392.8 684.1)"/>
<ellipse cx="398.3" cy="690.0" rx="2.10" ry="1.47"/>
<ellipse cx="403.8" cy="698.8" rx="2.73" ry="4.06" transform="rotate(30 403.8 698.8)"/>
<ellipse cx="392.8" cy="703.8" rx="2.66" ry="1.05" transform="rotate(-15 392.8 703.8)"/>
<ellipse cx="398.3" cy="709.7" rx="2.10" ry="1.47"/>
<ellipse cx="403.8" cy="718.5" rx="2.73" ry="4.06" transform="rotate(30 403.8 718.5)"/>
<ellipse cx="392.8" cy="723.5" rx="2.66" ry="1.05" transform="rotate(-15 392.8 723.5)"/>
<ellipse cx="398.3" cy="729.4" rx="2.10" ry="1.47"/>
<ellipse cx="412.8" cy="546.2" rx="2.66" ry="1.05" transform="rotate(-15 412.8 546.2)"/>
<ellipse cx="418.3" cy="552.1" rx="2.10" ry="1.47"/>
<ellipse cx="412.8" cy="565.9" rx="2.66" ry="1.05" transform="rotate(-15 412.8 565.9)"/>
<ellipse cx="418.3" cy="571.8" rx="2.10" ry="1.47"/>
<ellipse cx="423.8" cy="580.6" rx="2.73" ry="4.06" transform="rotate(30 423.8 580.6)"/>
<ellipse cx="412.8" cy="585.6" rx="2.66" ry="1.05" transform="rotate(-15 412.8 585.6)"/>
<ellipse cx="418.3" cy="591.5" rx="2.10" ry="1.47"/>
<ellipse cx="423.8" cy="600.3" rx="2.73" ry="4.06" transform="rotate(30 423.8 600.3)"/>
<ellipse cx="412.8" cy="605.3" rx="2.66" ry="1.05" transform="rotate(-15 412.8 605.3)"/>
<ellipse cx="418.3" cy="611.2" rx="2.10" ry="1.47"/>
<ellipse cx="423.8" cy="620.0" rx="2.73" ry="4.06" transform="rotate(30 423.8 620.0)"/>
<ellipse cx="412.8" cy="625.0" rx="2.66" ry="1.05" transform="rotate(-15 412.8 625.0)"/>
<ellipse cx="418.3" cy="630.9" rx="2.10" ry="1.47"/>
<ellipse cx="423.8" cy="639.7" rx="2.73" ry="4.06" transform="rotate(30 423.8 639.7)"/>
<ellipse cx="412.8" cy="644.7" rx="2.66" ry="1.05" transform="rotate(-15 412.8 644.7)"/>
<ellipse cx="418.3" cy="650.6" rx="2.10" ry="1.47"/>
<ellipse cx="423.8" cy="659.4" rx="2.73" ry="4.06" transform="rotate(30 423.8 659.4)"/>
<ellipse cx="412.8" cy="664.4" rx="2.66" ry="1.05" transform="rotate(-15 412.8 664.4)"/>
<ellipse cx="418.3" cy="670.3" rx="2.10" ry="1.47"/>
<ellipse cx="423.8" cy="679.1" rx="2.73" ry="4.06" transform="rotate(30 423.8 679.1)"/>
<ellipse cx="412.8" cy="684.1" rx="2.66" ry="1.05" transform="rotate(-15 412.8 684.1)"/>
<ellipse cx="418.3" cy="690.0" rx="2.10" ry="1.47"/>
<ellipse cx="423.8" cy="698.8" rx="2.73" ry="4.06" transform="rotate(30 423.8 698.8)"/>
<ellipse cx="412.8" cy="703.8" rx="2.66" ry="1.05" transform="rotate(-15 412.8 703.8)"/>
<ellipse cx="418.3" cy="709.7" rx="2.10" ry="1.47"/>
<ellipse cx="423.8" cy="718.5" rx="2.73" ry="4.06" transform="rotate(30 423.8 718.5)"/>
<ellipse cx="412.8" cy="723.5" rx="2.66" ry="1.05" transform="rotate(-15 412.8 723.5)"/>
<ellipse cx="418.3" cy="729.4" rx="2.10" ry="1.47"/>
</g>
<clipPath id="c4"><rect x="379" y="757" width="56" height="326.5"/></clipPath>
<rect x="379" y="757" width="56" height="326.5" fill="#615f5f" stroke="none"/>
<g clip-path="url(#c4)" fill="#000" stroke="none">
<ellipse cx="332.8" cy="723.7" rx="2.66" ry="1.05" transform="rotate(-15 332.8 723.7)"/>
<ellipse cx="338.3" cy="729.6" rx="2.10" ry="1.47"/>
<ellipse cx="332.8" cy="743.3" rx="2.66" ry="1.05" transform="rotate(-15 332.8 743.3)"/>
<ellipse cx="338.3" cy="749.2" rx="2.10" ry="1.47"/>
<ellipse cx="332.8" cy="762.9" rx="2.66" ry="1.05" transform="rotate(-15 332.8 762.9)"/>
<ellipse cx="338.3" cy="768.8" rx="2.10" ry="1.47"/>
<ellipse cx="383.0" cy="777.5" rx="4.60" ry="3.60"/>
<ellipse cx="332.8" cy="782.5" rx="2.66" ry="1.05" transform="rotate(-15 332.8 782.5)"/>
<ellipse cx="338.3" cy="788.4" rx="2.10" ry="1.47"/>
<ellipse cx="383.0" cy="797.1" rx="4.60" ry="3.60"/>
<ellipse cx="332.8" cy="802.1" rx="2.66" ry="1.05" transform="rotate(-15 332.8 802.1)"/>
<ellipse cx="338.3" cy="808.0" rx="2.10" ry="1.47"/>
<ellipse cx="383.0" cy="816.7" rx="4.60" ry="3.60"/>
<ellipse cx="332.8" cy="821.7" rx="2.66" ry="1.05" transform="rotate(-15 332.8 821.7)"/>
<ellipse cx="338.3" cy="827.6" rx="2.10" ry="1.47"/>
<ellipse cx="383.0" cy="836.3" rx="4.60" ry="3.60"/>
<ellipse cx="332.8" cy="841.3" rx="2.66" ry="1.05" transform="rotate(-15 332.8 841.3)"/>
<ellipse cx="338.3" cy="847.2" rx="2.10" ry="1.47"/>
<ellipse cx="383.0" cy="855.9" rx="4.60" ry="3.60"/>
<ellipse cx="332.8" cy="860.9" rx="2.66" ry="1.05" transform="rotate(-15 332.8 860.9)"/>
<ellipse cx="338.3" cy="866.8" rx="2.10" ry="1.47"/>
<ellipse cx="383.0" cy="875.5" rx="4.60" ry="3.60"/>
<ellipse cx="332.8" cy="880.5" rx="2.66" ry="1.05" transform="rotate(-15 332.8 880.5)"/>
<ellipse cx="338.3" cy="886.4" rx="2.10" ry="1.47"/>
<ellipse cx="383.0" cy="895.1" rx="4.60" ry="3.60"/>
<ellipse cx="332.8" cy="900.1" rx="2.66" ry="1.05" transform="rotate(-15 332.8 900.1)"/>
<ellipse cx="338.3" cy="906.0" rx="2.10" ry="1.47"/>
<ellipse cx="383.0" cy="914.7" rx="4.60" ry="3.60"/>
<ellipse cx="332.8" cy="919.7" rx="2.66" ry="1.05" transform="rotate(-15 332.8 919.7)"/>
<ellipse cx="338.3" cy="925.6" rx="2.10" ry="1.47"/>
<ellipse cx="383.0" cy="934.3" rx="4.60" ry="3.60"/>
<ellipse cx="332.8" cy="939.3" rx="2.66" ry="1.05" transform="rotate(-15 332.8 939.3)"/>
<ellipse cx="338.3" cy="945.2" rx="2.10" ry="1.47"/>
<ellipse cx="383.0" cy="953.9" rx="4.60" ry="3.60"/>
<ellipse cx="332.8" cy="958.9" rx="2.66" ry="1.05" transform="rotate(-15 332.8 958.9)"/>
<ellipse cx="338.3" cy="964.8" rx="2.10" ry="1.47"/>
<ellipse cx="383.0" cy="973.5" rx="4.60" ry="3.60"/>
<ellipse cx="332.8" cy="978.5" rx="2.66" ry="1.05" transform="rotate(-15 332.8 978.5)"/>
<ellipse cx="338.3" cy="984.4" rx="2.10" ry="1.47"/>
<ellipse cx="383.0" cy="993.1" rx="4.60" ry="3.60"/>
<ellipse cx="332.8" cy="998.1" rx="2.66" ry="1.05" transform="rotate(-15 332.8 998.1)"/>
<ellipse cx="338.3" cy="1004.0" rx="2.10" ry="1.47"/>
<ellipse cx="383.0" cy="1012.7" rx="4.60" ry="3.60"/>
<ellipse cx="332.8" cy="1017.7" rx="2.66" ry="1.05" transform="rotate(-15 332.8 1017.7)"/>
<ellipse cx="338.3" cy="1023.6" rx="2.10" ry="1.47"/>
<ellipse cx="383.0" cy="1032.3" rx="4.60" ry="3.60"/>
<ellipse cx="332.8" cy="1037.3" rx="2.66" ry="1.05" transform="rotate(-15 332.8 1037.3)"/>
<ellipse cx="338.3" cy="1043.2" rx="2.10" ry="1.47"/>
<ellipse cx="383.0" cy="1051.9" rx="4.60" ry="3.60"/>
<ellipse cx="332.8" cy="1056.9" rx="2.66" ry="1.05" transform="rotate(-15 332.8 1056.9)"/>
<ellipse cx="338.3" cy="1062.8" rx="2.10" ry="1.47"/>
<ellipse cx="383.0" cy="1071.5" rx="4.60" ry="3.60"/>
<ellipse cx="332.8" cy="1076.5" rx="2.66" ry="1.05" transform="rotate(-15 332.8 1076.5)"/>
<ellipse cx="338.3" cy="1082.4" rx="2.10" ry="1.47"/>
<ellipse cx="383.0" cy="1091.1" rx="4.60" ry="3.60"/>
<ellipse cx="332.8" cy="1096.1" rx="2.66" ry="1.05" transform="rotate(-15 332.8 1096.1)"/>
<ellipse cx="338.3" cy="1102.0" rx="2.10" ry="1.47"/>
<ellipse cx="383.0" cy="1110.7" rx="4.60" ry="3.60"/>
<ellipse cx="332.8" cy="1115.7" rx="2.66" ry="1.05" transform="rotate(-15 332.8 1115.7)"/>
<ellipse cx="338.3" cy="1121.6" rx="2.10" ry="1.47"/>
<ellipse cx="352.8" cy="723.7" rx="2.66" ry="1.05" transform="rotate(-15 352.8 723.7)"/>
<ellipse cx="358.3" cy="729.6" rx="2.10" ry="1.47"/>
<ellipse cx="352.8" cy="743.3" rx="2.66" ry="1.05" transform="rotate(-15 352.8 743.3)"/>
<ellipse cx="358.3" cy="749.2" rx="2.10" ry="1.47"/>
<ellipse cx="352.8" cy="762.9" rx="2.66" ry="1.05" transform="rotate(-15 352.8 762.9)"/>
<ellipse cx="358.3" cy="768.8" rx="2.10" ry="1.47"/>
<ellipse cx="383.0" cy="777.5" rx="4.60" ry="3.60"/>
<ellipse cx="352.8" cy="782.5" rx="2.66" ry="1.05" transform="rotate(-15 352.8 782.5)"/>
<ellipse cx="358.3" cy="788.4" rx="2.10" ry="1.47"/>
<ellipse cx="383.0" cy="797.1" rx="4.60" ry="3.60"/>
<ellipse cx="352.8" cy="802.1" rx="2.66" ry="1.05" transform="rotate(-15 352.8 802.1)"/>
<ellipse cx="358.3" cy="808.0" rx="2.10" ry="1.47"/>
<ellipse cx="383.0" cy="816.7" rx="4.60" ry="3.60"/>
<ellipse cx="352.8" cy="821.7" rx="2.66" ry="1.05" transform="rotate(-15 352.8 821.7)"/>
<ellipse cx="358.3" cy="827.6" rx="2.10" ry="1.47"/>
<ellipse cx="383.0" cy="836.3" rx="4.60" ry="3.60"/>
<ellipse cx="352.8" cy="841.3" rx="2.66" ry="1.05" transform="rotate(-15 352.8 841.3)"/>
<ellipse cx="358.3" cy="847.2" rx="2.10" ry="1.47"/>
<ellipse cx="383.0" cy="855.9" rx="4.60" ry="3.60"/>
<ellipse cx="352.8" cy="860.9" rx="2.66" ry="1.05" transform="rotate(-15 352.8 860.9)"/>
<ellipse cx="358.3" cy="866.8" rx="2.10" ry="1.47"/>
<ellipse cx="383.0" cy="875.5" rx="4.60" ry="3.60"/>
<ellipse cx="352.8" cy="880.5" rx="2.66" ry="1.05" transform="rotate(-15 352.8 880.5)"/>
<ellipse cx="358.3" cy="886.4" rx="2.10" ry="1.47"/>
<ellipse cx="383.0" cy="895.1" rx="4.60" ry="3.60"/>
<ellipse cx="352.8" cy="900.1" rx="2.66" ry="1.05" transform="rotate(-15 352.8 900.1)"/>
<ellipse cx="358.3" cy="906.0" rx="2.10" ry="1.47"/>
<ellipse cx="383.0" cy="914.7" rx="4.60" ry="3.60"/>
<ellipse cx="352.8" cy="919.7" rx="2.66" ry="1.05" transform="rotate(-15 352.8 919.7)"/>
<ellipse cx="358.3" cy="925.6" rx="2.10" ry="1.47"/>
<ellipse cx="383.0" cy="934.3" rx="4.60" ry="3.60"/>
<ellipse cx="352.8" cy="939.3" rx="2.66" ry="1.05" transform="rotate(-15 352.8 939.3)"/>
<ellipse cx="358.3" cy="945.2" rx="2.10" ry="1.47"/>
<ellipse cx="383.0" cy="953.9" rx="4.60" ry="3.60"/>
<ellipse cx="352.8" cy="958.9" rx="2.66" ry="1.05" transform="rotate(-15 352.8 958.9)"/>
<ellipse cx="358.3" cy="964.8" rx="2.10" ry="1.47"/>
<ellipse cx="383.0" cy="973.5" rx="4.60" ry="3.60"/>
<ellipse cx="352.8" cy="978.5" rx="2.66" ry="1.05" transform="rotate(-15 352.8 978.5)"/>
<ellipse cx="358.3" cy="984.4" rx="2.10" ry="1.47"/>
<ellipse cx="383.0" cy="993.1" rx="4.60" ry="3.60"/>
<ellipse cx="352.8" cy="998.1" rx="2.66" ry="1.05" transform="rotate(-15 352.8 998.1)"/>
<ellipse cx="358.3" cy="1004.0" rx="2.10" ry="1.47"/>
<ellipse cx="383.0" cy="1012.7" rx="4.60" ry="3.60"/>
<ellipse cx="352.8" cy="1017.7" rx="2.66" ry="1.05" transform="rotate(-15 352.8 1017.7)"/>
<ellipse cx="358.3" cy="1023.6" rx="2.10" ry="1.47"/>
<ellipse cx="383.0" cy="1032.3" rx="4.60" ry="3.60"/>
<ellipse cx="352.8" cy="1037.3" rx="2.66" ry="1.05" transform="rotate(-15 352.8 1037.3)"/>
<ellipse cx="358.3" cy="1043.2" rx="2.10" ry="1.47"/>
<ellipse cx="383.0" cy="1051.9" rx="4.60" ry="3.60"/>
<ellipse cx="352.8" cy="1056.9" rx="2.66" ry="1.05" transform="rotate(-15 352.8 1056.9)"/>
<ellipse cx="358.3" cy="1062.8" rx="2.10" ry="1.47"/>
<ellipse cx="383.0" cy="1071.5" rx="4.60" ry="3.60"/>
<ellipse cx="352.8" cy="1076.5" rx="2.66" ry="1.05" transform="rotate(-15 352.8 1076.5)"/>
<ellipse cx="358.3" cy="1082.4" rx="2.10" ry="1.47"/>
<ellipse cx="383.0" cy="1091.1" rx="4.60" ry="3.60"/>
<ellipse cx="352.8" cy="1096.1" rx="2.66" ry="1.05" transform="rotate(-15 352.8 1096.1)"/>
<ellipse cx="358.3" cy="1102.0" rx="2.10" ry="1.47"/>
<ellipse cx="383.0" cy="1110.7" rx="4.60" ry="3.60"/>
<ellipse cx="352.8" cy="1115.7" rx="2.66" ry="1.05" transform="rotate(-15 352.8 1115.7)"/>
<ellipse cx="358.3" cy="1121.6" rx="2.10" ry="1.47"/>
<ellipse cx="372.8" cy="723.7" rx="2.66" ry="1.05" transform="rotate(-15 372.8 723.7)"/>
<ellipse cx="378.3" cy="729.6" rx="2.10" ry="1.47"/>
<ellipse cx="372.8" cy="743.3" rx="2.66" ry="1.05" transform="rotate(-15 372.8 743.3)"/>
<ellipse cx="378.3" cy="749.2" rx="2.10" ry="1.47"/>
<ellipse cx="372.8" cy="762.9" rx="2.66" ry="1.05" transform="rotate(-15 372.8 762.9)"/>
<ellipse cx="378.3" cy="768.8" rx="2.10" ry="1.47"/>
<ellipse cx="383.0" cy="777.5" rx="4.60" ry="3.60"/>
<ellipse cx="372.8" cy="782.5" rx="2.66" ry="1.05" transform="rotate(-15 372.8 782.5)"/>
<ellipse cx="378.3" cy="788.4" rx="2.10" ry="1.47"/>
<ellipse cx="383.0" cy="797.1" rx="4.60" ry="3.60"/>
<ellipse cx="372.8" cy="802.1" rx="2.66" ry="1.05" transform="rotate(-15 372.8 802.1)"/>
<ellipse cx="378.3" cy="808.0" rx="2.10" ry="1.47"/>
<ellipse cx="383.0" cy="816.7" rx="4.60" ry="3.60"/>
<ellipse cx="372.8" cy="821.7" rx="2.66" ry="1.05" transform="rotate(-15 372.8 821.7)"/>
<ellipse cx="378.3" cy="827.6" rx="2.10" ry="1.47"/>
<ellipse cx="383.0" cy="836.3" rx="4.60" ry="3.60"/>
<ellipse cx="372.8" cy="841.3" rx="2.66" ry="1.05" transform="rotate(-15 372.8 841.3)"/>
<ellipse cx="378.3" cy="847.2" rx="2.10" ry="1.47"/>
<ellipse cx="383.0" cy="855.9" rx="4.60" ry="3.60"/>
<ellipse cx="372.8" cy="860.9" rx="2.66" ry="1.05" transform="rotate(-15 372.8 860.9)"/>
<ellipse cx="378.3" cy="866.8" rx="2.10" ry="1.47"/>
<ellipse cx="383.0" cy="875.5" rx="4.60" ry="3.60"/>
<ellipse cx="372.8" cy="880.5" rx="2.66" ry="1.05" transform="rotate(-15 372.8 880.5)"/>
<ellipse cx="378.3" cy="886.4" rx="2.10" ry="1.47"/>
<ellipse cx="383.0" cy="895.1" rx="4.60" ry="3.60"/>
<ellipse cx="372.8" cy="900.1" rx="2.66" ry="1.05" transform="rotate(-15 372.8 900.1)"/>
<ellipse cx="378.3" cy="906.0" rx="2.10" ry="1.47"/>
<ellipse cx="383.0" cy="914.7" rx="4.60" ry="3.60"/>
<ellipse cx="372.8" cy="919.7" rx="2.66" ry="1.05" transform="rotate(-15 372.8 919.7)"/>
<ellipse cx="378.3" cy="925.6" rx="2.10" ry="1.47"/>
<ellipse cx="383.0" cy="934.3" rx="4.60" ry="3.60"/>
<ellipse cx="372.8" cy="939.3" rx="2.66" ry="1.05" transform="rotate(-15 372.8 939.3)"/>
<ellipse cx="378.3" cy="945.2" rx="2.10" ry="1.47"/>
<ellipse cx="383.0" cy="953.9" rx="4.60" ry="3.60"/>
<ellipse cx="372.8" cy="958.9" rx="2.66" ry="1.05" transform="rotate(-15 372.8 958.9)"/>
<ellipse cx="378.3" cy="964.8" rx="2.10" ry="1.47"/>
<ellipse cx="383.0" cy="973.5" rx="4.60" ry="3.60"/>
<ellipse cx="372.8" cy="978.5" rx="2.66" ry="1.05" transform="rotate(-15 372.8 978.5)"/>
<ellipse cx="378.3" cy="984.4" rx="2.10" ry="1.47"/>
<ellipse cx="383.0" cy="993.1" rx="4.60" ry="3.60"/>
<ellipse cx="372.8" cy="998.1" rx="2.66" ry="1.05" transform="rotate(-15 372.8 998.1)"/>
<ellipse cx="378.3" cy="1004.0" rx="2.10" ry="1.47"/>
<ellipse cx="383.0" cy="1012.7" rx="4.60" ry="3.60"/>
<ellipse cx="372.8" cy="1017.7" rx="2.66" ry="1.05" transform="rotate(-15 372.8 1017.7)"/>
<ellipse cx="378.3" cy="1023.6" rx="2.10" ry="1.47"/>
<ellipse cx="383.0" cy="1032.3" rx="4.60" ry="3.60"/>
<ellipse cx="372.8" cy="1037.3" rx="2.66" ry="1.05" transform="rotate(-15 372.8 1037.3)"/>
<ellipse cx="378.3" cy="1043.2" rx="2.10" ry="1.47"/>
<ellipse cx="383.0" cy="1051.9" rx="4.60" ry="3.60"/>
<ellipse cx="372.8" cy="1056.9" rx="2.66" ry="1.05" transform="rotate(-15 372.8 1056.9)"/>
<ellipse cx="378.3" cy="1062.8" rx="2.10" ry="1.47"/>
<ellipse cx="383.0" cy="1071.5" rx="4.60" ry="3.60"/>
<ellipse cx="372.8" cy="1076.5" rx="2.66" ry="1.05" transform="rotate(-15 372.8 1076.5)"/>
<ellipse cx="378.3" cy="1082.4" rx="2.10" ry="1.47"/>
<ellipse cx="383.0" cy="1091.1" rx="4.60" ry="3.60"/>
<ellipse cx="372.8" cy="1096.1" rx="2.66" ry="1.05" transform="rotate(-15 372.8 1096.1)"/>
<ellipse cx="378.3" cy="1102.0" rx="2.10" ry="1.47"/>
<ellipse cx="383.0" cy="1110.7" rx="4.60" ry="3.60"/>
<ellipse cx="372.8" cy="1115.7" rx="2.66" ry="1.05" transform="rotate(-15 372.8 1115.7)"/>
<ellipse cx="378.3" cy="1121.6" rx="2.10" ry="1.47"/>
<ellipse cx="392.8" cy="723.7" rx="2.66" ry="1.05" transform="rotate(-15 392.8 723.7)"/>
<ellipse cx="398.3" cy="729.6" rx="2.10" ry="1.47"/>
<ellipse cx="392.8" cy="743.3" rx="2.66" ry="1.05" transform="rotate(-15 392.8 743.3)"/>
<ellipse cx="398.3" cy="749.2" rx="2.10" ry="1.47"/>
<ellipse cx="392.8" cy="762.9" rx="2.66" ry="1.05" transform="rotate(-15 392.8 762.9)"/>
<ellipse cx="398.3" cy="768.8" rx="2.10" ry="1.47"/>
<ellipse cx="403.8" cy="777.5" rx="2.73" ry="4.06" transform="rotate(30 403.8 777.5)"/>
<ellipse cx="392.8" cy="782.5" rx="2.66" ry="1.05" transform="rotate(-15 392.8 782.5)"/>
<ellipse cx="398.3" cy="788.4" rx="2.10" ry="1.47"/>
<ellipse cx="403.8" cy="797.1" rx="2.73" ry="4.06" transform="rotate(30 403.8 797.1)"/>
<ellipse cx="392.8" cy="802.1" rx="2.66" ry="1.05" transform="rotate(-15 392.8 802.1)"/>
<ellipse cx="398.3" cy="808.0" rx="2.10" ry="1.47"/>
<ellipse cx="403.8" cy="816.7" rx="2.73" ry="4.06" transform="rotate(30 403.8 816.7)"/>
<ellipse cx="392.8" cy="821.7" rx="2.66" ry="1.05" transform="rotate(-15 392.8 821.7)"/>
<ellipse cx="398.3" cy="827.6" rx="2.10" ry="1.47"/>
<ellipse cx="403.8" cy="836.3" rx="2.73" ry="4.06" transform="rotate(30 403.8 836.3)"/>
<ellipse cx="392.8" cy="841.3" rx="2.66" ry="1.05" transform="rotate(-15 392.8 841.3)"/>
<ellipse cx="398.3" cy="847.2" rx="2.10" ry="1.47"/>
<ellipse cx="403.8" cy="855.9" rx="2.73" ry="4.06" transform="rotate(30 403.8 855.9)"/>
<ellipse cx="392.8" cy="860.9" rx="2.66" ry="1.05" transform="rotate(-15 392.8 860.9)"/>
<ellipse cx="398.3" cy="866.8" rx="2.10" ry="1.47"/>
<ellipse cx="403.8" cy="875.5" rx="2.73" ry="4.06" transform="rotate(30 403.8 875.5)"/>
<ellipse cx="392.8" cy="880.5" rx="2.66" ry="1.05" transform="rotate(-15 392.8 880.5)"/>
<ellipse cx="398.3" cy="886.4" rx="2.10" ry="1.47"/>
<ellipse cx="403.8" cy="895.1" rx="2.73" ry="4.06" transform="rotate(30 403.8 895.1)"/>
<ellipse cx="392.8" cy="900.1" rx="2.66" ry="1.05" transform="rotate(-15 392.8 900.1)"/>
<ellipse cx="398.3" cy="906.0" rx="2.10" ry="1.47"/>
<ellipse cx="403.8" cy="914.7" rx="2.73" ry="4.06" transform="rotate(30 403.8 914.7)"/>
<ellipse cx="392.8" cy="919.7" rx="2.66" ry="1.05" transform="rotate(-15 392.8 919.7)"/>
<ellipse cx="398.3" cy="925.6" rx="2.10" ry="1.47"/>
<ellipse cx="403.8" cy="934.3" rx="2.73" ry="4.06" transform="rotate(30 403.8 934.3)"/>
<ellipse cx="392.8" cy="939.3" rx="2.66" ry="1.05" transform="rotate(-15 392.8 939.3)"/>
<ellipse cx="398.3" cy="945.2" rx="2.10" ry="1.47"/>
<ellipse cx="403.8" cy="953.9" rx="2.73" ry="4.06" transform="rotate(30 403.8 953.9)"/>
<ellipse cx="392.8" cy="958.9" rx="2.66" ry="1.05" transform="rotate(-15 392.8 958.9)"/>
<ellipse cx="398.3" cy="964.8" rx="2.10" ry="1.47"/>
<ellipse cx="403.8" cy="973.5" rx="2.73" ry="4.06" transform="rotate(30 403.8 973.5)"/>
<ellipse cx="392.8" cy="978.5" rx="2.66" ry="1.05" transform="rotate(-15 392.8 978.5)"/>
<ellipse cx="398.3" cy="984.4" rx="2.10" ry="1.47"/>
<ellipse cx="403.8" cy="993.1" rx="2.73" ry="4.06" transform="rotate(30 403.8 993.1)"/>
<ellipse cx="392.8" cy="998.1" rx="2.66" ry="1.05" transform="rotate(-15 392.8 998.1)"/>
<ellipse cx="398.3" cy="1004.0" rx="2.10" ry="1.47"/>
<ellipse cx="403.8" cy="1012.7" rx="2.73" ry="4.06" transform="rotate(30 403.8 1012.7)"/>
<ellipse cx="392.8" cy="1017.7" rx="2.66" ry="1.05" transform="rotate(-15 392.8 1017.7)"/>
<ellipse cx="398.3" cy="1023.6" rx="2.10" ry="1.47"/>
<ellipse cx="403.8" cy="1032.3" rx="2.73" ry="4.06" transform="rotate(30 403.8 1032.3)"/>
<ellipse cx="392.8" cy="1037.3" rx="2.66" ry="1.05" transform="rotate(-15 392.8 1037.3)"/>
<ellipse cx="398.3" cy="1043.2" rx="2.10" ry="1.47"/>
<ellipse cx="403.8" cy="1051.9" rx="2.73" ry="4.06" transform="rotate(30 403.8 1051.9)"/>
<ellipse cx="392.8" cy="1056.9" rx="2.66" ry="1.05" transform="rotate(-15 392.8 1056.9)"/>
<ellipse cx="398.3" cy="1062.8" rx="2.10" ry="1.47"/>
<ellipse cx="403.8" cy="1071.5" rx="2.73" ry="4.06" transform="rotate(30 403.8 1071.5)"/>
<ellipse cx="392.8" cy="1076.5" rx="2.66" ry="1.05" transform="rotate(-15 392.8 1076.5)"/>
<ellipse cx="398.3" cy="1082.4" rx="2.10" ry="1.47"/>
<ellipse cx="403.8" cy="1091.1" rx="2.73" ry="4.06" transform="rotate(30 403.8 1091.1)"/>
<ellipse cx="392.8" cy="1096.1" rx="2.66" ry="1.05" transform="rotate(-15 392.8 1096.1)"/>
<ellipse cx="398.3" cy="1102.0" rx="2.10" ry="1.47"/>
<ellipse cx="403.8" cy="1110.7" rx="2.73" ry="4.06" transform="rotate(30 403.8 1110.7)"/>
<ellipse cx="392.8" cy="1115.7" rx="2.66" ry="1.05" transform="rotate(-15 392.8 1115.7)"/>
<ellipse cx="398.3" cy="1121.6" rx="2.10" ry="1.47"/>
<ellipse cx="412.8" cy="723.7" rx="2.66" ry="1.05" transform="rotate(-15 412.8 723.7)"/>
<ellipse cx="418.3" cy="729.6" rx="2.10" ry="1.47"/>
<ellipse cx="412.8" cy="743.3" rx="2.66" ry="1.05" transform="rotate(-15 412.8 743.3)"/>
<ellipse cx="418.3" cy="749.2" rx="2.10" ry="1.47"/>
<ellipse cx="412.8" cy="762.9" rx="2.66" ry="1.05" transform="rotate(-15 412.8 762.9)"/>
<ellipse cx="418.3" cy="768.8" rx="2.10" ry="1.47"/>
<ellipse cx="423.8" cy="777.5" rx="2.73" ry="4.06" transform="rotate(30 423.8 777.5)"/>
<ellipse cx="412.8" cy="782.5" rx="2.66" ry="1.05" transform="rotate(-15 412.8 782.5)"/>
<ellipse cx="418.3" cy="788.4" rx="2.10" ry="1.47"/>
<ellipse cx="423.8" cy="797.1" rx="2.73" ry="4.06" transform="rotate(30 423.8 797.1)"/>
<ellipse cx="412.8" cy="802.1" rx="2.66" ry="1.05" transform="rotate(-15 412.8 802.1)"/>
<ellipse cx="418.3" cy="808.0" rx="2.10" ry="1.47"/>
<ellipse cx="423.8" cy="816.7" rx="2.73" ry="4.06" transform="rotate(30 423.8 816.7)"/>
<ellipse cx="412.8" cy="821.7" rx="2.66" ry="1.05" transform="rotate(-15 412.8 821.7)"/>
<ellipse cx="418.3" cy="827.6" rx="2.10" ry="1.47"/>
<ellipse cx="423.8" cy="836.3" rx="2.73" ry="4.06" transform="rotate(30 423.8 836.3)"/>
<ellipse cx="412.8" cy="841.3" rx="2.66" ry="1.05" transform="rotate(-15 412.8 841.3)"/>
<ellipse cx="418.3" cy="847.2" rx="2.10" ry="1.47"/>
<ellipse cx="423.8" cy="855.9" rx="2.73" ry="4.06" transform="rotate(30 423.8 855.9)"/>
<ellipse cx="412.8" cy="860.9" rx="2.66" ry="1.05" transform="rotate(-15 412.8 860.9)"/>
<ellipse cx="418.3" cy="866.8" rx="2.10" ry="1.47"/>
<ellipse cx="423.8" cy="875.5" rx="2.73" ry="4.06" transform="rotate(30 423.8 875.5)"/>
<ellipse cx="412.8" cy="880.5" rx="2.66" ry="1.05" transform="rotate(-15 412.8 880.5)"/>
<ellipse cx="418.3" cy="886.4" rx="2.10" ry="1.47"/>
<ellipse cx="423.8" cy="895.1" rx="2.73" ry="4.06" transform="rotate(30 423.8 895.1)"/>
<ellipse cx="412.8" cy="900.1" rx="2.66" ry="1.05" transform="rotate(-15 412.8 900.1)"/>
<ellipse cx="418.3" cy="906.0" rx="2.10" ry="1.47"/>
<ellipse cx="423.8" cy="914.7" rx="2.73" ry="4.06" transform="rotate(30 423.8 914.7)"/>
<ellipse cx="412.8" cy="919.7" rx="2.66" ry="1.05" transform="rotate(-15 412.8 919.7)"/>
<ellipse cx="418.3" cy="925.6" rx="2.10" ry="1.47"/>
<ellipse cx="423.8" cy="934.3" rx="2.73" ry="4.06" transform="rotate(30 423.8 934.3)"/>
<ellipse cx="412.8" cy="939.3" rx="2.66" ry="1.05" transform="rotate(-15 412.8 939.3)"/>
<ellipse cx="418.3" cy="945.2" rx="2.10" ry="1.47"/>
<ellipse cx="423.8" cy="953.9" rx="2.73" ry="4.06" transform="rotate(30 423.8 953.9)"/>
<ellipse cx="412.8" cy="958.9" rx="2.66" ry="1.05" transform="rotate(-15 412.8 958.9)"/>
<ellipse cx="418.3" cy="964.8" rx="2.10" ry="1.47"/>
<ellipse cx="423.8" cy="973.5" rx="2.73" ry="4.06" transform="rotate(30 423.8 973.5)"/>
<ellipse cx="412.8" cy="978.5" rx="2.66" ry="1.05" transform="rotate(-15 412.8 978.5)"/>
<ellipse cx="418.3" cy="984.4" rx="2.10" ry="1.47"/>
<ellipse cx="423.8" cy="993.1" rx="2.73" ry="4.06" transform="rotate(30 423.8 993.1)"/>
<ellipse cx="412.8" cy="998.1" rx="2.66" ry="1.05" transform="rotate(-15 412.8 998.1)"/>
<ellipse cx="418.3" cy="1004.0" rx="2.10" ry="1.47"/>
<ellipse cx="423.8" cy="1012.7" rx="2.73" ry="4.06" transform="rotate(30 423.8 1012.7)"/>
<ellipse cx="412.8" cy="1017.7" rx="2.66" ry="1.05" transform="rotate(-15 412.8 1017.7)"/>
<ellipse cx="418.3" cy="1023.6" rx="2.10" ry="1.47"/>
<ellipse cx="423.8" cy="1032.3" rx="2.73" ry="4.06" transform="rotate(30 423.8 1032.3)"/>
<ellipse cx="412.8" cy="1037.3" rx="2.66" ry="1.05" transform="rotate(-15 412.8 1037.3)"/>
<ellipse cx="418.3" cy="1043.2" rx="2.10" ry="1.47"/>
<ellipse cx="423.8" cy="1051.9" rx="2.73" ry="4.06" transform="rotate(30 423.8 1051.9)"/>
<ellipse cx="412.8" cy="1056.9" rx="2.66" ry="1.05" transform="rotate(-15 412.8 1056.9)"/>
<ellipse cx="418.3" cy="1062.8" rx="2.10" ry="1.47"/>
<ellipse cx="423.8" cy="1071.5" rx="2.73" ry="4.06" transform="rotate(30 423.8 1071.5)"/>
<ellipse cx="412.8" cy="1076.5" rx="2.66" ry="1.05" transform="rotate(-15 412.8 1076.5)"/>
<ellipse cx="418.3" cy="1082.4" rx="2.10" ry="1.47"/>
<ellipse cx="423.8" cy="1091.1" rx="2.73" ry="4.06" transform="rotate(30 423.8 1091.1)"/>
<ellipse cx="412.8" cy="1096.1" rx="2.66" ry="1.05" transform="rotate(-15 412.8 1096.1)"/>
<ellipse cx="418.3" cy="1102.0" rx="2.10" ry="1.47"/>
<ellipse cx="423.8" cy="1110.7" rx="2.73" ry="4.06" transform="rotate(30 423.8 1110.7)"/>
<ellipse cx="412.8" cy="1115.7" rx="2.66" ry="1.05" transform="rotate(-15 412.8 1115.7)"/>
<ellipse cx="418.3" cy="1121.6" rx="2.10" ry="1.47"/>
</g>
<clipPath id="c5"><rect x="379" y="1145" width="56" height="150"/></clipPath>
<rect x="379" y="1145" width="56" height="150" fill="#615f5f" stroke="none"/>
<g clip-path="url(#c5)" fill="#000" stroke="none">
<ellipse cx="383.0" cy="1113.8" rx="4.60" ry="3.60"/>
<ellipse cx="333.0" cy="1118.8" rx="2.66" ry="1.05" transform="rotate(-15 333.0 1118.8)"/>
<ellipse cx="338.5" cy="1124.7" rx="2.10" ry="1.47"/>
<ellipse cx="383.0" cy="1133.4" rx="4.60" ry="3.60"/>
<ellipse cx="333.0" cy="1138.4" rx="2.66" ry="1.05" transform="rotate(-15 333.0 1138.4)"/>
<ellipse cx="338.5" cy="1144.3" rx="2.10" ry="1.47"/>
<ellipse cx="383.0" cy="1153.0" rx="4.60" ry="3.60"/>
<ellipse cx="333.0" cy="1158.0" rx="2.66" ry="1.05" transform="rotate(-15 333.0 1158.0)"/>
<ellipse cx="338.5" cy="1163.9" rx="2.10" ry="1.47"/>
<ellipse cx="383.0" cy="1172.6" rx="4.60" ry="3.60"/>
<ellipse cx="333.0" cy="1177.6" rx="2.66" ry="1.05" transform="rotate(-15 333.0 1177.6)"/>
<ellipse cx="338.5" cy="1183.5" rx="2.10" ry="1.47"/>
<ellipse cx="383.0" cy="1192.2" rx="4.60" ry="3.60"/>
<ellipse cx="333.0" cy="1197.2" rx="2.66" ry="1.05" transform="rotate(-15 333.0 1197.2)"/>
<ellipse cx="338.5" cy="1203.1" rx="2.10" ry="1.47"/>
<ellipse cx="383.0" cy="1211.8" rx="4.60" ry="3.60"/>
<ellipse cx="333.0" cy="1216.8" rx="2.66" ry="1.05" transform="rotate(-15 333.0 1216.8)"/>
<ellipse cx="338.5" cy="1222.7" rx="2.10" ry="1.47"/>
<ellipse cx="383.0" cy="1231.4" rx="4.60" ry="3.60"/>
<ellipse cx="333.0" cy="1236.4" rx="2.66" ry="1.05" transform="rotate(-15 333.0 1236.4)"/>
<ellipse cx="338.5" cy="1242.3" rx="2.10" ry="1.47"/>
<ellipse cx="383.0" cy="1251.0" rx="4.60" ry="3.60"/>
<ellipse cx="333.0" cy="1256.0" rx="2.66" ry="1.05" transform="rotate(-15 333.0 1256.0)"/>
<ellipse cx="338.5" cy="1261.9" rx="2.10" ry="1.47"/>
<ellipse cx="383.0" cy="1270.6" rx="4.60" ry="3.60"/>
<ellipse cx="333.0" cy="1275.6" rx="2.66" ry="1.05" transform="rotate(-15 333.0 1275.6)"/>
<ellipse cx="338.5" cy="1281.5" rx="2.10" ry="1.47"/>
<ellipse cx="383.0" cy="1290.2" rx="4.60" ry="3.60"/>
<ellipse cx="333.0" cy="1295.2" rx="2.66" ry="1.05" transform="rotate(-15 333.0 1295.2)"/>
<ellipse cx="338.5" cy="1301.1" rx="2.10" ry="1.47"/>
<ellipse cx="383.0" cy="1309.8" rx="4.60" ry="3.60"/>
<ellipse cx="333.0" cy="1314.8" rx="2.66" ry="1.05" transform="rotate(-15 333.0 1314.8)"/>
<ellipse cx="338.5" cy="1320.7" rx="2.10" ry="1.47"/>
<ellipse cx="383.0" cy="1329.4" rx="4.60" ry="3.60"/>
<ellipse cx="333.0" cy="1334.4" rx="2.66" ry="1.05" transform="rotate(-15 333.0 1334.4)"/>
<ellipse cx="338.5" cy="1340.3" rx="2.10" ry="1.47"/>
<ellipse cx="383.0" cy="1113.8" rx="4.60" ry="3.60"/>
<ellipse cx="353.0" cy="1118.8" rx="2.66" ry="1.05" transform="rotate(-15 353.0 1118.8)"/>
<ellipse cx="358.5" cy="1124.7" rx="2.10" ry="1.47"/>
<ellipse cx="383.0" cy="1133.4" rx="4.60" ry="3.60"/>
<ellipse cx="353.0" cy="1138.4" rx="2.66" ry="1.05" transform="rotate(-15 353.0 1138.4)"/>
<ellipse cx="358.5" cy="1144.3" rx="2.10" ry="1.47"/>
<ellipse cx="383.0" cy="1153.0" rx="4.60" ry="3.60"/>
<ellipse cx="353.0" cy="1158.0" rx="2.66" ry="1.05" transform="rotate(-15 353.0 1158.0)"/>
<ellipse cx="358.5" cy="1163.9" rx="2.10" ry="1.47"/>
<ellipse cx="383.0" cy="1172.6" rx="4.60" ry="3.60"/>
<ellipse cx="353.0" cy="1177.6" rx="2.66" ry="1.05" transform="rotate(-15 353.0 1177.6)"/>
<ellipse cx="358.5" cy="1183.5" rx="2.10" ry="1.47"/>
<ellipse cx="383.0" cy="1192.2" rx="4.60" ry="3.60"/>
<ellipse cx="353.0" cy="1197.2" rx="2.66" ry="1.05" transform="rotate(-15 353.0 1197.2)"/>
<ellipse cx="358.5" cy="1203.1" rx="2.10" ry="1.47"/>
<ellipse cx="383.0" cy="1211.8" rx="4.60" ry="3.60"/>
<ellipse cx="353.0" cy="1216.8" rx="2.66" ry="1.05" transform="rotate(-15 353.0 1216.8)"/>
<ellipse cx="358.5" cy="1222.7" rx="2.10" ry="1.47"/>
<ellipse cx="383.0" cy="1231.4" rx="4.60" ry="3.60"/>
<ellipse cx="353.0" cy="1236.4" rx="2.66" ry="1.05" transform="rotate(-15 353.0 1236.4)"/>
<ellipse cx="358.5" cy="1242.3" rx="2.10" ry="1.47"/>
<ellipse cx="383.0" cy="1251.0" rx="4.60" ry="3.60"/>
<ellipse cx="353.0" cy="1256.0" rx="2.66" ry="1.05" transform="rotate(-15 353.0 1256.0)"/>
<ellipse cx="358.5" cy="1261.9" rx="2.10" ry="1.47"/>
<ellipse cx="383.0" cy="1270.6" rx="4.60" ry="3.60"/>
<ellipse cx="353.0" cy="1275.6" rx="2.66" ry="1.05" transform="rotate(-15 353.0 1275.6)"/>
<ellipse cx="358.5" cy="1281.5" rx="2.10" ry="1.47"/>
<ellipse cx="383.0" cy="1290.2" rx="4.60" ry="3.60"/>
<ellipse cx="353.0" cy="1295.2" rx="2.66" ry="1.05" transform="rotate(-15 353.0 1295.2)"/>
<ellipse cx="358.5" cy="1301.1" rx="2.10" ry="1.47"/>
<ellipse cx="383.0" cy="1309.8" rx="4.60" ry="3.60"/>
<ellipse cx="353.0" cy="1314.8" rx="2.66" ry="1.05" transform="rotate(-15 353.0 1314.8)"/>
<ellipse cx="358.5" cy="1320.7" rx="2.10" ry="1.47"/>
<ellipse cx="383.0" cy="1329.4" rx="4.60" ry="3.60"/>
<ellipse cx="353.0" cy="1334.4" rx="2.66" ry="1.05" transform="rotate(-15 353.0 1334.4)"/>
<ellipse cx="358.5" cy="1340.3" rx="2.10" ry="1.47"/>
<ellipse cx="383.0" cy="1113.8" rx="4.60" ry="3.60"/>
<ellipse cx="373.0" cy="1118.8" rx="2.66" ry="1.05" transform="rotate(-15 373.0 1118.8)"/>
<ellipse cx="378.5" cy="1124.7" rx="2.10" ry="1.47"/>
<ellipse cx="383.0" cy="1133.4" rx="4.60" ry="3.60"/>
<ellipse cx="373.0" cy="1138.4" rx="2.66" ry="1.05" transform="rotate(-15 373.0 1138.4)"/>
<ellipse cx="378.5" cy="1144.3" rx="2.10" ry="1.47"/>
<ellipse cx="383.0" cy="1153.0" rx="4.60" ry="3.60"/>
<ellipse cx="373.0" cy="1158.0" rx="2.66" ry="1.05" transform="rotate(-15 373.0 1158.0)"/>
<ellipse cx="378.5" cy="1163.9" rx="2.10" ry="1.47"/>
<ellipse cx="383.0" cy="1172.6" rx="4.60" ry="3.60"/>
<ellipse cx="373.0" cy="1177.6" rx="2.66" ry="1.05" transform="rotate(-15 373.0 1177.6)"/>
<ellipse cx="378.5" cy="1183.5" rx="2.10" ry="1.47"/>
<ellipse cx="383.0" cy="1192.2" rx="4.60" ry="3.60"/>
<ellipse cx="373.0" cy="1197.2" rx="2.66" ry="1.05" transform="rotate(-15 373.0 1197.2)"/>
<ellipse cx="378.5" cy="1203.1" rx="2.10" ry="1.47"/>
<ellipse cx="383.0" cy="1211.8" rx="4.60" ry="3.60"/>
<ellipse cx="373.0" cy="1216.8" rx="2.66" ry="1.05" transform="rotate(-15 373.0 1216.8)"/>
<ellipse cx="378.5" cy="1222.7" rx="2.10" ry="1.47"/>
<ellipse cx="383.0" cy="1231.4" rx="4.60" ry="3.60"/>
<ellipse cx="373.0" cy="1236.4" rx="2.66" ry="1.05" transform="rotate(-15 373.0 1236.4)"/>
<ellipse cx="378.5" cy="1242.3" rx="2.10" ry="1.47"/>
<ellipse cx="383.0" cy="1251.0" rx="4.60" ry="3.60"/>
<ellipse cx="373.0" cy="1256.0" rx="2.66" ry="1.05" transform="rotate(-15 373.0 1256.0)"/>
<ellipse cx="378.5" cy="1261.9" rx="2.10" ry="1.47"/>
<ellipse cx="383.0" cy="1270.6" rx="4.60" ry="3.60"/>
<ellipse cx="373.0" cy="1275.6" rx="2.66" ry="1.05" transform="rotate(-15 373.0 1275.6)"/>
<ellipse cx="378.5" cy="1281.5" rx="2.10" ry="1.47"/>
<ellipse cx="383.0" cy="1290.2" rx="4.60" ry="3.60"/>
<ellipse cx="373.0" cy="1295.2" rx="2.66" ry="1.05" transform="rotate(-15 373.0 1295.2)"/>
<ellipse cx="378.5" cy="1301.1" rx="2.10" ry="1.47"/>
<ellipse cx="383.0" cy="1309.8" rx="4.60" ry="3.60"/>
<ellipse cx="373.0" cy="1314.8" rx="2.66" ry="1.05" transform="rotate(-15 373.0 1314.8)"/>
<ellipse cx="378.5" cy="1320.7" rx="2.10" ry="1.47"/>
<ellipse cx="383.0" cy="1329.4" rx="4.60" ry="3.60"/>
<ellipse cx="373.0" cy="1334.4" rx="2.66" ry="1.05" transform="rotate(-15 373.0 1334.4)"/>
<ellipse cx="378.5" cy="1340.3" rx="2.10" ry="1.47"/>
<ellipse cx="404.0" cy="1113.8" rx="2.73" ry="4.06" transform="rotate(30 404.0 1113.8)"/>
<ellipse cx="393.0" cy="1118.8" rx="2.66" ry="1.05" transform="rotate(-15 393.0 1118.8)"/>
<ellipse cx="398.5" cy="1124.7" rx="2.10" ry="1.47"/>
<ellipse cx="404.0" cy="1133.4" rx="2.73" ry="4.06" transform="rotate(30 404.0 1133.4)"/>
<ellipse cx="393.0" cy="1138.4" rx="2.66" ry="1.05" transform="rotate(-15 393.0 1138.4)"/>
<ellipse cx="398.5" cy="1144.3" rx="2.10" ry="1.47"/>
<ellipse cx="404.0" cy="1153.0" rx="2.73" ry="4.06" transform="rotate(30 404.0 1153.0)"/>
<ellipse cx="393.0" cy="1158.0" rx="2.66" ry="1.05" transform="rotate(-15 393.0 1158.0)"/>
<ellipse cx="398.5" cy="1163.9" rx="2.10" ry="1.47"/>
<ellipse cx="404.0" cy="1172.6" rx="2.73" ry="4.06" transform="rotate(30 404.0 1172.6)"/>
<ellipse cx="393.0" cy="1177.6" rx="2.66" ry="1.05" transform="rotate(-15 393.0 1177.6)"/>
<ellipse cx="398.5" cy="1183.5" rx="2.10" ry="1.47"/>
<ellipse cx="404.0" cy="1192.2" rx="2.73" ry="4.06" transform="rotate(30 404.0 1192.2)"/>
<ellipse cx="393.0" cy="1197.2" rx="2.66" ry="1.05" transform="rotate(-15 393.0 1197.2)"/>
<ellipse cx="398.5" cy="1203.1" rx="2.10" ry="1.47"/>
<ellipse cx="404.0" cy="1211.8" rx="2.73" ry="4.06" transform="rotate(30 404.0 1211.8)"/>
<ellipse cx="393.0" cy="1216.8" rx="2.66" ry="1.05" transform="rotate(-15 393.0 1216.8)"/>
<ellipse cx="398.5" cy="1222.7" rx="2.10" ry="1.47"/>
<ellipse cx="404.0" cy="1231.4" rx="2.73" ry="4.06" transform="rotate(30 404.0 1231.4)"/>
<ellipse cx="393.0" cy="1236.4" rx="2.66" ry="1.05" transform="rotate(-15 393.0 1236.4)"/>
<ellipse cx="398.5" cy="1242.3" rx="2.10" ry="1.47"/>
<ellipse cx="404.0" cy="1251.0" rx="2.73" ry="4.06" transform="rotate(30 404.0 1251.0)"/>
<ellipse cx="393.0" cy="1256.0" rx="2.66" ry="1.05" transform="rotate(-15 393.0 1256.0)"/>
<ellipse cx="398.5" cy="1261.9" rx="2.10" ry="1.47"/>
<ellipse cx="404.0" cy="1270.6" rx="2.73" ry="4.06" transform="rotate(30 404.0 1270.6)"/>
<ellipse cx="393.0" cy="1275.6" rx="2.66" ry="1.05" transform="rotate(-15 393.0 1275.6)"/>
<ellipse cx="398.5" cy="1281.5" rx="2.10" ry="1.47"/>
<ellipse cx="404.0" cy="1290.2" rx="2.73" ry="4.06" transform="rotate(30 404.0 1290.2)"/>
<ellipse cx="393.0" cy="1295.2" rx="2.66" ry="1.05" transform="rotate(-15 393.0 1295.2)"/>
<ellipse cx="398.5" cy="1301.1" rx="2.10" ry="1.47"/>
<ellipse cx="404.0" cy="1309.8" rx="2.73" ry="4.06" transform="rotate(30 404.0 1309.8)"/>
<ellipse cx="393.0" cy="1314.8" rx="2.66" ry="1.05" transform="rotate(-15 393.0 1314.8)"/>
<ellipse cx="398.5" cy="1320.7" rx="2.10" ry="1.47"/>
<ellipse cx="404.0" cy="1329.4" rx="2.73" ry="4.06" transform="rotate(30 404.0 1329.4)"/>
<ellipse cx="393.0" cy="1334.4" rx="2.66" ry="1.05" transform="rotate(-15 393.0 1334.4)"/>
<ellipse cx="398.5" cy="1340.3" rx="2.10" ry="1.47"/>
<ellipse cx="424.0" cy="1113.8" rx="2.73" ry="4.06" transform="rotate(30 424.0 1113.8)"/>
<ellipse cx="413.0" cy="1118.8" rx="2.66" ry="1.05" transform="rotate(-15 413.0 1118.8)"/>
<ellipse cx="418.5" cy="1124.7" rx="2.10" ry="1.47"/>
<ellipse cx="424.0" cy="1133.4" rx="2.73" ry="4.06" transform="rotate(30 424.0 1133.4)"/>
<ellipse cx="413.0" cy="1138.4" rx="2.66" ry="1.05" transform="rotate(-15 413.0 1138.4)"/>
<ellipse cx="418.5" cy="1144.3" rx="2.10" ry="1.47"/>
<ellipse cx="424.0" cy="1153.0" rx="2.73" ry="4.06" transform="rotate(30 424.0 1153.0)"/>
<ellipse cx="413.0" cy="1158.0" rx="2.66" ry="1.05" transform="rotate(-15 413.0 1158.0)"/>
<ellipse cx="418.5" cy="1163.9" rx="2.10" ry="1.47"/>
<ellipse cx="424.0" cy="1172.6" rx="2.73" ry="4.06" transform="rotate(30 424.0 1172.6)"/>
<ellipse cx="413.0" cy="1177.6" rx="2.66" ry="1.05" transform="rotate(-15 413.0 1177.6)"/>
<ellipse cx="418.5" cy="1183.5" rx="2.10" ry="1.47"/>
<ellipse cx="424.0" cy="1192.2" rx="2.73" ry="4.06" transform="rotate(30 424.0 1192.2)"/>
<ellipse cx="413.0" cy="1197.2" rx="2.66" ry="1.05" transform="rotate(-15 413.0 1197.2)"/>
<ellipse cx="418.5" cy="1203.1" rx="2.10" ry="1.47"/>
<ellipse cx="424.0" cy="1211.8" rx="2.73" ry="4.06" transform="rotate(30 424.0 1211.8)"/>
<ellipse cx="413.0" cy="1216.8" rx="2.66" ry="1.05" transform="rotate(-15 413.0 1216.8)"/>
<ellipse cx="418.5" cy="1222.7" rx="2.10" ry="1.47"/>
<ellipse cx="424.0" cy="1231.4" rx="2.73" ry="4.06" transform="rotate(30 424.0 1231.4)"/>
<ellipse cx="413.0" cy="1236.4" rx="2.66" ry="1.05" transform="rotate(-15 413.0 1236.4)"/>
<ellipse cx="418.5" cy="1242.3" rx="2.10" ry="1.47"/>
<ellipse cx="424.0" cy="1251.0" rx="2.73" ry="4.06" transform="rotate(30 424.0 1251.0)"/>
<ellipse cx="413.0" cy="1256.0" rx="2.66" ry="1.05" transform="rotate(-15 413.0 1256.0)"/>
<ellipse cx="418.5" cy="1261.9" rx="2.10" ry="1.47"/>
<ellipse cx="424.0" cy="1270.6" rx="2.73" ry="4.06" transform="rotate(30 424.0 1270.6)"/>
<ellipse cx="413.0" cy="1275.6" rx="2.66" ry="1.05" transform="rotate(-15 413.0 1275.6)"/>
<ellipse cx="418.5" cy="1281.5" rx="2.10" ry="1.47"/>
<ellipse cx="424.0" cy="1290.2" rx="2.73" ry="4.06" transform="rotate(30 424.0 1290.2)"/>
<ellipse cx="413.0" cy="1295.2" rx="2.66" ry="1.05" transform="rotate(-15 413.0 1295.2)"/>
<ellipse cx="418.5" cy="1301.1" rx="2.10" ry="1.47"/>
<ellipse cx="424.0" cy="1309.8" rx="2.73" ry="4.06" transform="rotate(30 424.0 1309.8)"/>
<ellipse cx="413.0" cy="1314.8" rx="2.66" ry="1.05" transform="rotate(-15 413.0 1314.8)"/>
<ellipse cx="418.5" cy="1320.7" rx="2.10" ry="1.47"/>
<ellipse cx="424.0" cy="1329.4" rx="2.73" ry="4.06" transform="rotate(30 424.0 1329.4)"/>
<ellipse cx="413.0" cy="1334.4" rx="2.66" ry="1.05" transform="rotate(-15 413.0 1334.4)"/>
<ellipse cx="418.5" cy="1340.3" rx="2.10" ry="1.47"/>
</g>
<rect x="389.2" y="695.8" width="45.8" height="6.1" fill="#615f5f" stroke="none"/>
<rect x="389.2" y="750.8" width="45.8" height="6.2" fill="#615f5f" stroke="none"/>
<rect x="389.2" y="695.8" width="7.7" height="61.2" fill="#615f5f" stroke="none"/>
<rect x="430" y="695.8" width="5" height="61.2" fill="#615f5f" stroke="none"/>
<line x1="435" y1="637" x2="450" y2="637" stroke-width="4.5" stroke-linecap="butt"/>
<line x1="435" y1="816.5" x2="450" y2="816.5" stroke-width="4.5" stroke-linecap="butt"/>
<line x1="448.4" y1="635" x2="448.4" y2="819" stroke-width="9" stroke-linecap="butt"/>
<line x1="451.5" y1="637.6" x2="495.2" y2="681.8" stroke-width="5" stroke-linecap="butt"/>
<line x1="452.8" y1="816.6" x2="495.2" y2="769.8" stroke-width="5" stroke-linecap="butt"/>
<rect x="389.2" y="1084.3" width="45.8" height="6.1" fill="#615f5f" stroke="none"/>
<rect x="389.2" y="1139.3" width="45.8" height="6.2" fill="#615f5f" stroke="none"/>
<rect x="389.2" y="1084.3" width="7.7" height="61.2" fill="#615f5f" stroke="none"/>
<rect x="430" y="1084.3" width="5" height="61.2" fill="#615f5f" stroke="none"/>
<line x1="435" y1="1025.5" x2="450" y2="1025.5" stroke-width="4.5" stroke-linecap="butt"/>
<line x1="435" y1="1205.0" x2="450" y2="1205.0" stroke-width="4.5" stroke-linecap="butt"/>
<line x1="448.4" y1="1023.5" x2="448.4" y2="1207.5" stroke-width="9" stroke-linecap="butt"/>
<line x1="451.5" y1="1026.1" x2="495.2" y2="1070.3" stroke-width="5" stroke-linecap="butt"/>
<line x1="452.8" y1="1205.1" x2="495.2" y2="1158.3" stroke-width="5" stroke-linecap="butt"/>
<rect x="490.2" y="681" width="5.5" height="88.8" fill="#615f5f" stroke="none"/>
<rect x="495.7" y="686" width="42.7" height="80" fill="#615f5f" stroke="none"/>
<rect x="498.2" y="692.8" width="26.6" height="28.0" rx="1.2" fill="#000" stroke="none"/>
<rect x="498.2" y="731" width="26.6" height="27.8" rx="1.2" fill="#000" stroke="none"/>
<rect x="490.2" y="1070.2" width="5.5" height="88.8" fill="#615f5f" stroke="none"/>
<rect x="495.7" y="1075.2" width="42.7" height="79.59999999999991" fill="#615f5f" stroke="none"/>
<rect x="498.2" y="1082" width="26.6" height="28.0" rx="1.2" fill="#000" stroke="none"/>
<rect x="498.2" y="1119.2" width="26.6" height="27.5" rx="1.2" fill="#000" stroke="none"/>
<path d="M308,725.5 H359 M364,725.5 H561 M308,1114.6 H359 M364,1114.6 H561" stroke-width="4.4"/>
<path d="M533.9,683 L533.9,1162" stroke-width="7.3" fill="none" />
<path d="M537,682.3 Q537,682.3 530.2,682.3 M533.9,682.3 L610,682.3 Q625,682.3 625,697 L625,826 Q625,867.3 660,867.3" stroke-width="7" fill="none" />
<line x1="610" y1="681.5" x2="1031" y2="681.5" stroke-width="5" stroke-linecap="butt"/>
<path d="M598,867.3 L953,867.3" stroke-width="7.2" fill="none" />
<path d="M950,863.8 L953.5,863.8 L960.4,870.8 L960.4,970 L952.3,970 L952.3,870.8 L950,870.8 Z" stroke="none" fill="#615f5f" />
<path d="M957.4,968 L957.4,1248.5" stroke-width="4.8" fill="none" />
<path d="M960.4,972.5 L590,972.5" stroke-width="7.2" fill="none" />
<path d="M598,867.3 A52.6,52.6 0 0 0 590,972.5" stroke-width="7.2" fill="none" />
<line x1="812.5" y1="868" x2="812.5" y2="971.5" stroke-width="6.5" stroke-linecap="butt"/>
<path d="M660,972.5 Q625,972.5 625,1008 L625,1140 Q625,1158.8 610,1158.8 L533.9,1158.8" stroke-width="7" fill="none" />
<line x1="600" y1="1159.5" x2="1031" y2="1159.5" stroke-width="5" stroke-linecap="butt"/>
<line x1="1019" y1="672" x2="1019" y2="1168" stroke-width="5" stroke-linecap="butt"/>
<path d="M1019.0,677.0 L1013.5,700.0 L1024.5,700.0 Z" fill="#615f5f" stroke="none"/>
<path d="M1019.0,1163.0 L1024.5,1140.0 L1013.5,1140.0 Z" fill="#615f5f" stroke="none"/>
<path d="M 982.92,959.63 L 977.30,955.16 L 1010.58,955.16 M 1010.58,961.50 L 1010.58,947.56" stroke-width="4.8" fill="none" stroke-linejoin="miter" stroke-miterlimit="3"/>
<path d="M 977.30,932.49 L 977.30,920.32 L 982.81,915.02 L 986.66,915.02 L 992.07,920.32 L 992.07,932.49 L 986.66,938.00 L 982.81,938.00 Z M 992.07,932.49 L 992.07,920.32 L 997.58,915.02 L 1005.07,915.02 L 1010.58,920.32 L 1010.58,932.49 L 1005.07,938.00 L 997.58,938.00 Z" stroke-width="4.8" fill="none" stroke-linejoin="miter" stroke-miterlimit="3"/>
<path d="M 977.30,879.47 L 977.30,903.70 L 989.26,903.70 L 989.26,885.60 L 994.56,880.30 L 1006.21,880.30 L 1010.58,884.36 L 1010.58,898.71 L 1005.28,903.39" stroke-width="4.8" fill="none" stroke-linejoin="miter" stroke-miterlimit="3"/>
<line x1="321.5" y1="719" x2="321.5" y2="1124" stroke-width="5" stroke-linecap="butt"/>
<path d="M321.5,722.0 L316.0,746.0 L327.0,746.0 Z" fill="#615f5f" stroke="none"/>
<path d="M321.5,1118.0 L327.0,1095.0 L316.0,1095.0 Z" fill="#615f5f" stroke="none"/>
<path d="M 289.48,1013.41 L 284.70,1009.60 L 313.02,1009.60 M 313.02,1015.00 L 313.02,1003.14" stroke-width="4.3" fill="none" stroke-linejoin="miter" stroke-miterlimit="3"/>
<path d="M 284.70,974.08 L 284.70,994.70 L 294.88,994.70 L 294.88,979.30 L 299.39,974.79 L 309.30,974.79 L 313.02,978.24 L 313.02,990.45 L 308.51,994.43" stroke-width="4.3" fill="none" stroke-linejoin="miter" stroke-miterlimit="3"/>
<path d="M 289.12,966.50 L 284.70,962.08 L 284.70,956.23 L 289.12,951.72 L 308.59,951.72 L 313.02,956.23 L 313.02,962.08 L 308.59,966.50 Z" stroke-width="4.3" fill="none" stroke-linejoin="miter" stroke-miterlimit="3"/>
<path d="M 294.26,946.30 L 294.26,926.83 M 284.70,936.56 L 308.59,936.56 M 308.59,946.30 L 308.59,926.83" stroke-width="4.3" fill="none" stroke-linejoin="miter" stroke-miterlimit="3"/>
<path d="M 289.48,916.61 L 284.70,912.80 L 313.02,912.80 M 313.02,918.20 L 313.02,906.34" stroke-width="4.3" fill="none" stroke-linejoin="miter" stroke-miterlimit="3"/>
<path d="M 284.70,876.58 L 284.70,897.20 L 294.88,897.20 L 294.88,881.80 L 299.39,877.29 L 309.30,877.29 L 313.02,880.74 L 313.02,892.95 L 308.51,896.93" stroke-width="4.3" fill="none" stroke-linejoin="miter" stroke-miterlimit="3"/>
<line x1="435" y1="1236" x2="965.8" y2="1236" stroke-width="5.5" stroke-linecap="butt"/>
<path d="M436.0,1236.0 L454.0,1241.5 L454.0,1230.5 Z" fill="#615f5f" stroke="none"/>
<path d="M963.0,1236.0 L939.0,1230.5 L939.0,1241.5 Z" fill="#615f5f" stroke="none"/>
<path d="M 675.80,1201.82 L 680.31,1195.80 L 693.35,1195.80 L 697.87,1200.31 L 697.87,1207.33 L 692.55,1212.55 L 680.81,1212.55 L 675.80,1217.36 L 675.80,1227.90 L 699.37,1227.90" stroke-width="3.9" fill="none" stroke-linejoin="miter" stroke-miterlimit="3"/>
<path d="M 708.00,1200.82 L 713.01,1195.80 L 719.63,1195.80 L 724.75,1200.82 L 724.75,1222.88 L 719.63,1227.90 L 713.01,1227.90 L 708.00,1222.88 Z" stroke-width="3.9" fill="none" stroke-linejoin="miter" stroke-miterlimit="3"/>
<path d="M 735.20,1201.82 L 739.51,1195.80 L 752.25,1195.80 L 756.97,1200.82 L 756.97,1207.03 L 751.35,1212.55 L 744.43,1212.55 M 751.35,1212.55 L 756.97,1217.87 L 756.97,1222.28 L 752.25,1227.90 L 738.61,1227.90 L 734.90,1223.38" stroke-width="3.9" fill="none" stroke-linejoin="miter" stroke-miterlimit="3"/>
</g>
</svg></body></html>
